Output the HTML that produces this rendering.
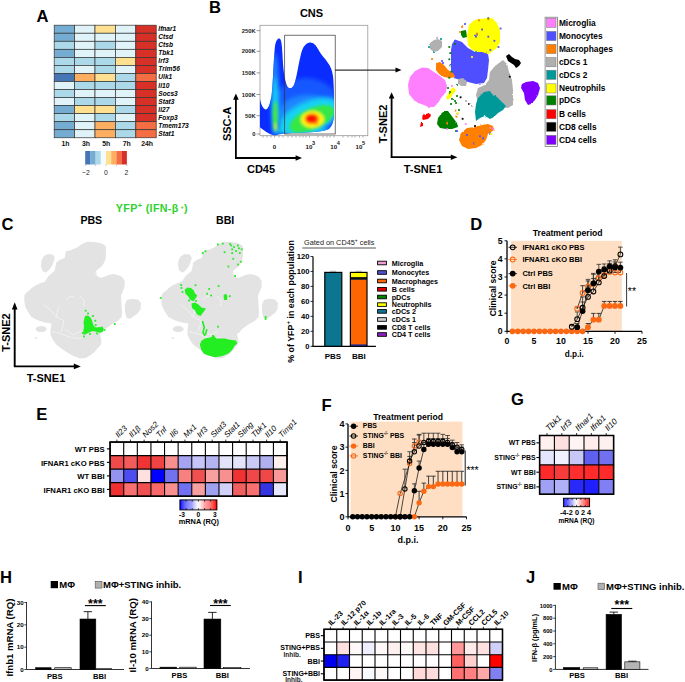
<!DOCTYPE html>
<html><head><meta charset="utf-8"><style>
html,body{margin:0;padding:0;background:#fff;}
svg{display:block;}
text{font-family:"Liberation Sans",sans-serif;}
</style></head><body>
<svg width="685" height="682" viewBox="0 0 685 682" style="font-family:'Liberation Sans',sans-serif">
<rect width="685" height="682" fill="#fff"/>
<text x="36.40" y="21.90" font-size="16.6" font-weight="bold"  text-anchor="start" fill="#000" >A</text>
<rect x="54.20" y="25.20" width="20.40" height="8.04" fill="#74add1" stroke="#333" stroke-width="0.7"/>
<rect x="74.60" y="25.20" width="20.40" height="8.04" fill="#e0f3f8" stroke="#333" stroke-width="0.7"/>
<rect x="95.00" y="25.20" width="20.40" height="8.04" fill="#fee090" stroke="#333" stroke-width="0.7"/>
<rect x="115.40" y="25.20" width="20.40" height="8.04" fill="#e0f3f8" stroke="#333" stroke-width="0.7"/>
<rect x="135.80" y="25.20" width="20.40" height="8.04" fill="#d73027" stroke="#333" stroke-width="0.7"/>
<text x="158.30" y="31.22" font-size="6.6" font-weight="bold" font-style="italic" text-anchor="start" fill="#000" >Ifnar1</text>
<rect x="54.20" y="33.24" width="20.40" height="8.04" fill="#74add1" stroke="#333" stroke-width="0.7"/>
<rect x="74.60" y="33.24" width="20.40" height="8.04" fill="#e0f3f8" stroke="#333" stroke-width="0.7"/>
<rect x="95.00" y="33.24" width="20.40" height="8.04" fill="#e0f3f8" stroke="#333" stroke-width="0.7"/>
<rect x="115.40" y="33.24" width="20.40" height="8.04" fill="#e0f3f8" stroke="#333" stroke-width="0.7"/>
<rect x="135.80" y="33.24" width="20.40" height="8.04" fill="#d73027" stroke="#333" stroke-width="0.7"/>
<text x="158.30" y="39.26" font-size="6.6" font-weight="bold" font-style="italic" text-anchor="start" fill="#000" >Ctsd</text>
<rect x="54.20" y="41.28" width="20.40" height="8.04" fill="#abd9e9" stroke="#333" stroke-width="0.7"/>
<rect x="74.60" y="41.28" width="20.40" height="8.04" fill="#e0f3f8" stroke="#333" stroke-width="0.7"/>
<rect x="95.00" y="41.28" width="20.40" height="8.04" fill="#abd9e9" stroke="#333" stroke-width="0.7"/>
<rect x="115.40" y="41.28" width="20.40" height="8.04" fill="#e0f3f8" stroke="#333" stroke-width="0.7"/>
<rect x="135.80" y="41.28" width="20.40" height="8.04" fill="#d73027" stroke="#333" stroke-width="0.7"/>
<text x="158.30" y="47.30" font-size="6.6" font-weight="bold" font-style="italic" text-anchor="start" fill="#000" >Ctsb</text>
<rect x="54.20" y="49.32" width="20.40" height="8.04" fill="#74add1" stroke="#333" stroke-width="0.7"/>
<rect x="74.60" y="49.32" width="20.40" height="8.04" fill="#e0f3f8" stroke="#333" stroke-width="0.7"/>
<rect x="95.00" y="49.32" width="20.40" height="8.04" fill="#e0f3f8" stroke="#333" stroke-width="0.7"/>
<rect x="115.40" y="49.32" width="20.40" height="8.04" fill="#e0f3f8" stroke="#333" stroke-width="0.7"/>
<rect x="135.80" y="49.32" width="20.40" height="8.04" fill="#d73027" stroke="#333" stroke-width="0.7"/>
<text x="158.30" y="55.34" font-size="6.6" font-weight="bold" font-style="italic" text-anchor="start" fill="#000" >Tbk1</text>
<rect x="54.20" y="57.36" width="20.40" height="8.04" fill="#abd9e9" stroke="#333" stroke-width="0.7"/>
<rect x="74.60" y="57.36" width="20.40" height="8.04" fill="#abd9e9" stroke="#333" stroke-width="0.7"/>
<rect x="95.00" y="57.36" width="20.40" height="8.04" fill="#abd9e9" stroke="#333" stroke-width="0.7"/>
<rect x="115.40" y="57.36" width="20.40" height="8.04" fill="#fee090" stroke="#333" stroke-width="0.7"/>
<rect x="135.80" y="57.36" width="20.40" height="8.04" fill="#d73027" stroke="#333" stroke-width="0.7"/>
<text x="158.30" y="63.38" font-size="6.6" font-weight="bold" font-style="italic" text-anchor="start" fill="#000" >Irf3</text>
<rect x="54.20" y="65.40" width="20.40" height="8.04" fill="#abd9e9" stroke="#333" stroke-width="0.7"/>
<rect x="74.60" y="65.40" width="20.40" height="8.04" fill="#e0f3f8" stroke="#333" stroke-width="0.7"/>
<rect x="95.00" y="65.40" width="20.40" height="8.04" fill="#abd9e9" stroke="#333" stroke-width="0.7"/>
<rect x="115.40" y="65.40" width="20.40" height="8.04" fill="#e0f3f8" stroke="#333" stroke-width="0.7"/>
<rect x="135.80" y="65.40" width="20.40" height="8.04" fill="#d73027" stroke="#333" stroke-width="0.7"/>
<text x="158.30" y="71.42" font-size="6.6" font-weight="bold" font-style="italic" text-anchor="start" fill="#000" >Trim56</text>
<rect x="54.20" y="73.44" width="20.40" height="8.04" fill="#4575b4" stroke="#333" stroke-width="0.7"/>
<rect x="74.60" y="73.44" width="20.40" height="8.04" fill="#fdae61" stroke="#333" stroke-width="0.7"/>
<rect x="95.00" y="73.44" width="20.40" height="8.04" fill="#fee090" stroke="#333" stroke-width="0.7"/>
<rect x="115.40" y="73.44" width="20.40" height="8.04" fill="#abd9e9" stroke="#333" stroke-width="0.7"/>
<rect x="135.80" y="73.44" width="20.40" height="8.04" fill="#f46d43" stroke="#333" stroke-width="0.7"/>
<text x="158.30" y="79.46" font-size="6.6" font-weight="bold" font-style="italic" text-anchor="start" fill="#000" >Ulk1</text>
<rect x="54.20" y="81.48" width="20.40" height="8.04" fill="#e0f3f8" stroke="#333" stroke-width="0.7"/>
<rect x="74.60" y="81.48" width="20.40" height="8.04" fill="#abd9e9" stroke="#333" stroke-width="0.7"/>
<rect x="95.00" y="81.48" width="20.40" height="8.04" fill="#abd9e9" stroke="#333" stroke-width="0.7"/>
<rect x="115.40" y="81.48" width="20.40" height="8.04" fill="#abd9e9" stroke="#333" stroke-width="0.7"/>
<rect x="135.80" y="81.48" width="20.40" height="8.04" fill="#d73027" stroke="#333" stroke-width="0.7"/>
<text x="158.30" y="87.50" font-size="6.6" font-weight="bold" font-style="italic" text-anchor="start" fill="#000" >Il10</text>
<rect x="54.20" y="89.52" width="20.40" height="8.04" fill="#abd9e9" stroke="#333" stroke-width="0.7"/>
<rect x="74.60" y="89.52" width="20.40" height="8.04" fill="#e0f3f8" stroke="#333" stroke-width="0.7"/>
<rect x="95.00" y="89.52" width="20.40" height="8.04" fill="#e0f3f8" stroke="#333" stroke-width="0.7"/>
<rect x="115.40" y="89.52" width="20.40" height="8.04" fill="#e0f3f8" stroke="#333" stroke-width="0.7"/>
<rect x="135.80" y="89.52" width="20.40" height="8.04" fill="#d73027" stroke="#333" stroke-width="0.7"/>
<text x="158.30" y="95.54" font-size="6.6" font-weight="bold" font-style="italic" text-anchor="start" fill="#000" >Socs3</text>
<rect x="54.20" y="97.56" width="20.40" height="8.04" fill="#e0f3f8" stroke="#333" stroke-width="0.7"/>
<rect x="74.60" y="97.56" width="20.40" height="8.04" fill="#abd9e9" stroke="#333" stroke-width="0.7"/>
<rect x="95.00" y="97.56" width="20.40" height="8.04" fill="#abd9e9" stroke="#333" stroke-width="0.7"/>
<rect x="115.40" y="97.56" width="20.40" height="8.04" fill="#e0f3f8" stroke="#333" stroke-width="0.7"/>
<rect x="135.80" y="97.56" width="20.40" height="8.04" fill="#d73027" stroke="#333" stroke-width="0.7"/>
<text x="158.30" y="103.58" font-size="6.6" font-weight="bold" font-style="italic" text-anchor="start" fill="#000" >Stat3</text>
<rect x="54.20" y="105.60" width="20.40" height="8.04" fill="#74add1" stroke="#333" stroke-width="0.7"/>
<rect x="74.60" y="105.60" width="20.40" height="8.04" fill="#fee090" stroke="#333" stroke-width="0.7"/>
<rect x="95.00" y="105.60" width="20.40" height="8.04" fill="#fee090" stroke="#333" stroke-width="0.7"/>
<rect x="115.40" y="105.60" width="20.40" height="8.04" fill="#abd9e9" stroke="#333" stroke-width="0.7"/>
<rect x="135.80" y="105.60" width="20.40" height="8.04" fill="#d73027" stroke="#333" stroke-width="0.7"/>
<text x="158.30" y="111.62" font-size="6.6" font-weight="bold" font-style="italic" text-anchor="start" fill="#000" >Il27</text>
<rect x="54.20" y="113.64" width="20.40" height="8.04" fill="#abd9e9" stroke="#333" stroke-width="0.7"/>
<rect x="74.60" y="113.64" width="20.40" height="8.04" fill="#e0f3f8" stroke="#333" stroke-width="0.7"/>
<rect x="95.00" y="113.64" width="20.40" height="8.04" fill="#abd9e9" stroke="#333" stroke-width="0.7"/>
<rect x="115.40" y="113.64" width="20.40" height="8.04" fill="#e0f3f8" stroke="#333" stroke-width="0.7"/>
<rect x="135.80" y="113.64" width="20.40" height="8.04" fill="#d73027" stroke="#333" stroke-width="0.7"/>
<text x="158.30" y="119.66" font-size="6.6" font-weight="bold" font-style="italic" text-anchor="start" fill="#000" >Foxp3</text>
<rect x="54.20" y="121.68" width="20.40" height="8.04" fill="#74add1" stroke="#333" stroke-width="0.7"/>
<rect x="74.60" y="121.68" width="20.40" height="8.04" fill="#e0f3f8" stroke="#333" stroke-width="0.7"/>
<rect x="95.00" y="121.68" width="20.40" height="8.04" fill="#fdae61" stroke="#333" stroke-width="0.7"/>
<rect x="115.40" y="121.68" width="20.40" height="8.04" fill="#abd9e9" stroke="#333" stroke-width="0.7"/>
<rect x="135.80" y="121.68" width="20.40" height="8.04" fill="#f46d43" stroke="#333" stroke-width="0.7"/>
<text x="158.30" y="127.70" font-size="6.6" font-weight="bold" font-style="italic" text-anchor="start" fill="#000" >Tmem173</text>
<rect x="54.20" y="129.72" width="20.40" height="8.04" fill="#74add1" stroke="#333" stroke-width="0.7"/>
<rect x="74.60" y="129.72" width="20.40" height="8.04" fill="#e0f3f8" stroke="#333" stroke-width="0.7"/>
<rect x="95.00" y="129.72" width="20.40" height="8.04" fill="#fdae61" stroke="#333" stroke-width="0.7"/>
<rect x="115.40" y="129.72" width="20.40" height="8.04" fill="#abd9e9" stroke="#333" stroke-width="0.7"/>
<rect x="135.80" y="129.72" width="20.40" height="8.04" fill="#f46d43" stroke="#333" stroke-width="0.7"/>
<text x="158.30" y="135.74" font-size="6.6" font-weight="bold" font-style="italic" text-anchor="start" fill="#000" >Stat1</text>
<text x="65.50" y="145.50" font-size="6.9" font-weight="bold"  text-anchor="middle" fill="#111" >1h</text>
<text x="85.90" y="145.50" font-size="6.9" font-weight="bold"  text-anchor="middle" fill="#111" >3h</text>
<text x="106.30" y="145.50" font-size="6.9" font-weight="bold"  text-anchor="middle" fill="#111" >5h</text>
<text x="126.70" y="145.50" font-size="6.9" font-weight="bold"  text-anchor="middle" fill="#111" >7h</text>
<text x="147.10" y="145.50" font-size="6.9" font-weight="bold"  text-anchor="middle" fill="#111" >24h</text>
<rect x="85.20" y="151" width="5.30" height="13.5" fill="#4575b4"/>
<rect x="90.40" y="151" width="5.30" height="13.5" fill="#74add1"/>
<rect x="95.60" y="151" width="5.30" height="13.5" fill="#abd9e9"/>
<rect x="100.80" y="151" width="5.30" height="13.5" fill="#f4fbfd"/>
<rect x="106.00" y="151" width="5.30" height="13.5" fill="#fee090"/>
<rect x="111.20" y="151" width="5.30" height="13.5" fill="#fdae61"/>
<rect x="116.40" y="151" width="5.30" height="13.5" fill="#f46d43"/>
<rect x="121.60" y="151" width="5.30" height="13.5" fill="#d73027"/>
<line x1="85.20" y1="164.5" x2="85.20" y2="166" stroke="#888" stroke-width="0.5"/>
<line x1="95.60" y1="164.5" x2="95.60" y2="166" stroke="#888" stroke-width="0.5"/>
<line x1="106.00" y1="164.5" x2="106.00" y2="166" stroke="#888" stroke-width="0.5"/>
<line x1="116.40" y1="164.5" x2="116.40" y2="166" stroke="#888" stroke-width="0.5"/>
<line x1="126.80" y1="164.5" x2="126.80" y2="166" stroke="#888" stroke-width="0.5"/>
<text x="86.00" y="174.50" font-size="6.8"   text-anchor="middle" fill="#222" >&#8722;2</text>
<text x="106.00" y="174.50" font-size="6.8"   text-anchor="middle" fill="#222" >0</text>
<text x="126.30" y="174.50" font-size="6.8"   text-anchor="middle" fill="#222" >2</text>
<text x="209.10" y="12.80" font-size="16.6" font-weight="bold"  text-anchor="start" fill="#000" >B</text>
<text x="311.50" y="16.90" font-size="11" font-weight="bold"  text-anchor="middle" fill="#000" >CNS</text>
<rect x="260" y="25.3" width="107.8" height="110.4" fill="none" stroke="#999" stroke-width="0.8"/>
<clipPath id="flowclip"><path d="M260,99 C261,104 263,109 265.5,109.5 C268,110 270,104 271.5,96 C273,85 273.5,60 275,46 C276,40 278,38 279.5,38.5 C281.5,39.5 282,45 282.5,55 C283,68 284.5,80 287,86 C289,89.5 292,89 294,85 C296.5,79 298,66 301,54 C303,46 306,43.5 309.5,42.5 C313,42 316,45 318,49 C321,55 325,58 328,63 C330.5,66 332,70 333,76 C334,85 334,100 334,112 C334,122 332,127 328,129.5 C322,132 310,132.5 295,133 C285,133.3 280,133.8 277,135 C275,135.8 272,135.2 269,133.5 C265.5,131.5 262,129 260,127.3 Z"/></clipPath>
<filter id="fb3" x="-50%" y="-50%" width="200%" height="200%"><feGaussianBlur stdDeviation="2.2"/></filter>
<filter id="fb2" x="-50%" y="-50%" width="200%" height="200%"><feGaussianBlur stdDeviation="1.4"/></filter>
<g clip-path="url(#flowclip)">
<rect x="255" y="30" width="85" height="110" fill="#0a2cff"/>
<g filter="url(#fb3)">
<ellipse cx="306" cy="106" rx="33" ry="28" fill="#1458ff"/>
<ellipse cx="308" cy="114" rx="29" ry="19" fill="#1a86ff"/>
<ellipse cx="275" cy="95" rx="4" ry="42" fill="#1a86ff"/>
<ellipse cx="302" cy="131.5" rx="30" ry="3.2" fill="#12c8f0"/>
<ellipse cx="309" cy="117" rx="32" ry="15" fill="#12d4f0" transform="rotate(-24 309 117)"/>
<ellipse cx="275" cy="105" rx="2.8" ry="28" fill="#12d4f0"/>
</g><g filter="url(#fb2)">
<ellipse cx="312" cy="119" rx="24" ry="10.5" fill="#34e844" transform="rotate(-24 312 119)"/>
<ellipse cx="275.3" cy="116" rx="2.3" ry="15" fill="#48e838"/>
<ellipse cx="275.5" cy="127" rx="1.6" ry="4" fill="#c8f020"/>
<ellipse cx="312.5" cy="119.5" rx="11.5" ry="8.5" fill="#fff510"/>
<ellipse cx="311.8" cy="118.8" rx="7" ry="5.2" fill="#ff3a08"/>
<ellipse cx="311.3" cy="118.3" rx="4.5" ry="3.4" fill="#ff1000"/>
<circle cx="316.5" cy="123.5" r="1.6" fill="#ff8010"/>
</g></g>
<rect x="284.7" y="35.2" width="50.5" height="98.8" fill="none" stroke="#333" stroke-width="0.7"/>
<line x1="256.6" y1="30.6" x2="260" y2="30.6" stroke="#555" stroke-width="0.6"/>
<text x="255.60" y="32.70" font-size="5.8" font-weight="bold"  text-anchor="end" fill="#222" >250K</text>
<line x1="256.6" y1="51.3" x2="260" y2="51.3" stroke="#555" stroke-width="0.6"/>
<text x="255.60" y="53.40" font-size="5.8" font-weight="bold"  text-anchor="end" fill="#222" >200K</text>
<line x1="256.6" y1="72.9" x2="260" y2="72.9" stroke="#555" stroke-width="0.6"/>
<text x="255.60" y="75.00" font-size="5.8" font-weight="bold"  text-anchor="end" fill="#222" >150K</text>
<line x1="256.6" y1="94.5" x2="260" y2="94.5" stroke="#555" stroke-width="0.6"/>
<text x="255.60" y="96.60" font-size="5.8" font-weight="bold"  text-anchor="end" fill="#222" >100K</text>
<line x1="256.6" y1="115.7" x2="260" y2="115.7" stroke="#555" stroke-width="0.6"/>
<text x="255.60" y="117.80" font-size="5.8" font-weight="bold"  text-anchor="end" fill="#222" >50K</text>
<line x1="256.6" y1="134" x2="260" y2="134" stroke="#555" stroke-width="0.6"/>
<text x="255.60" y="136.10" font-size="5.8" font-weight="bold"  text-anchor="end" fill="#222" >0</text>
<line x1="263" y1="135.7" x2="263" y2="137.5" stroke="#666" stroke-width="0.5"/>
<line x1="267" y1="135.7" x2="267" y2="137.5" stroke="#666" stroke-width="0.5"/>
<line x1="271" y1="135.7" x2="271" y2="137.5" stroke="#666" stroke-width="0.5"/>
<line x1="274.6" y1="135.7" x2="274.6" y2="137.5" stroke="#666" stroke-width="0.5"/>
<line x1="279" y1="135.7" x2="279" y2="137.5" stroke="#666" stroke-width="0.5"/>
<line x1="283" y1="135.7" x2="283" y2="137.5" stroke="#666" stroke-width="0.5"/>
<line x1="288" y1="135.7" x2="288" y2="137.5" stroke="#666" stroke-width="0.5"/>
<line x1="292" y1="135.7" x2="292" y2="137.5" stroke="#666" stroke-width="0.5"/>
<line x1="296" y1="135.7" x2="296" y2="137.5" stroke="#666" stroke-width="0.5"/>
<line x1="300" y1="135.7" x2="300" y2="137.5" stroke="#666" stroke-width="0.5"/>
<line x1="303" y1="135.7" x2="303" y2="137.5" stroke="#666" stroke-width="0.5"/>
<line x1="306" y1="135.7" x2="306" y2="137.5" stroke="#666" stroke-width="0.5"/>
<line x1="309.5" y1="135.7" x2="309.5" y2="137.5" stroke="#666" stroke-width="0.5"/>
<line x1="318" y1="135.7" x2="318" y2="137.5" stroke="#666" stroke-width="0.5"/>
<line x1="323" y1="135.7" x2="323" y2="137.5" stroke="#666" stroke-width="0.5"/>
<line x1="327" y1="135.7" x2="327" y2="137.5" stroke="#666" stroke-width="0.5"/>
<line x1="330" y1="135.7" x2="330" y2="137.5" stroke="#666" stroke-width="0.5"/>
<line x1="334" y1="135.7" x2="334" y2="137.5" stroke="#666" stroke-width="0.5"/>
<line x1="343" y1="135.7" x2="343" y2="137.5" stroke="#666" stroke-width="0.5"/>
<line x1="348" y1="135.7" x2="348" y2="137.5" stroke="#666" stroke-width="0.5"/>
<line x1="352" y1="135.7" x2="352" y2="137.5" stroke="#666" stroke-width="0.5"/>
<line x1="355" y1="135.7" x2="355" y2="137.5" stroke="#666" stroke-width="0.5"/>
<line x1="359.5" y1="135.7" x2="359.5" y2="137.5" stroke="#666" stroke-width="0.5"/>
<line x1="363" y1="135.7" x2="363" y2="137.5" stroke="#666" stroke-width="0.5"/>
<text x="274.60" y="149.20" font-size="6.2" font-weight="bold"  text-anchor="middle" fill="#222" >0</text>
<text x="308.90" y="149.20" font-size="6.2" font-weight="bold"  text-anchor="middle" fill="#222" >10</text>
<text x="313.50" y="144.60" font-size="5.6" font-weight="bold"  text-anchor="middle" fill="#222" >3</text>
<text x="333.70" y="149.20" font-size="6.2" font-weight="bold"  text-anchor="middle" fill="#222" >10</text>
<text x="338.30" y="144.60" font-size="5.6" font-weight="bold"  text-anchor="middle" fill="#222" >4</text>
<text x="358.90" y="149.20" font-size="6.2" font-weight="bold"  text-anchor="middle" fill="#222" >10</text>
<text x="363.50" y="144.60" font-size="5.6" font-weight="bold"  text-anchor="middle" fill="#222" >5</text>
<path d="M235.9,158 L235.9,99" stroke="#000" stroke-width="1.8" fill="none"/>
<path d="M233.1,99.8 L235.9,93.6 L238.7,99.8 Z" fill="#000"/>
<path d="M235,158 L296,158" stroke="#000" stroke-width="1.8" fill="none"/>
<path d="M295.6,155.2 L302,158 L295.6,160.8 Z" fill="#000"/>
<text x="231.20" y="124.00" font-size="11" font-weight="bold"  text-anchor="middle" fill="#000" transform="rotate(-90 231.2 124)" >SSC-A</text>
<text x="261.00" y="172.60" font-size="11" font-weight="bold"  text-anchor="middle" fill="#000" >CD45</text>
<path d="M335.2,70.1 L396,70.1" stroke="#000" stroke-width="1" fill="none"/>
<path d="M395.5,67.6 L401.5,70.1 L395.5,72.6 Z" fill="#000"/>
<path d="M391.6,157.2 L391.6,98" stroke="#000" stroke-width="1.8" fill="none"/>
<path d="M388.8,98.6 L391.6,92.2 L394.4,98.6 Z" fill="#000"/>
<path d="M390.7,157.2 L451,157.2" stroke="#000" stroke-width="1.8" fill="none"/>
<path d="M450.8,154.4 L457.4,157.2 L450.8,160 Z" fill="#000"/>
<text x="386.90" y="123.90" font-size="11" font-weight="bold"  text-anchor="middle" fill="#000" transform="rotate(-90 386.9 123.9)" >T-SNE2</text>
<text x="423.00" y="172.50" font-size="11" font-weight="bold"  text-anchor="middle" fill="#000" >T-SNE1</text>
<filter id="rough" x="-5%" y="-5%" width="110%" height="110%"><feTurbulence type="fractalNoise" baseFrequency="0.9" numOctaves="1" seed="3"/><feDisplacementMap in="SourceGraphic" scale="2.2" xChannelSelector="R" yChannelSelector="G"/></filter>
<g id="tsne" filter="url(#rough)"><path d="M503,60 L507,64 L509,72 L512,80 L513,90 L513,105 L508,108 L500,107 L490,106 L478,103 L476,95 L478,88 L485,85 L489,80 L490,72 L495,66 Z" fill="#b0b0b0"/><path d="M484,92 L490,91 L492,94 L497,97 L503,103 L506,106 L503,110 L498,113 L494,117 L490,119 L485,116 L480,118 L476,121 L475,112 L476,104 L478,98 Z" fill="#009999"/><path d="M478,19 L492,18 L497,23 L500,30 L500,42 L497,48 L490,53 L485,55 L479,52 L472,50 L468,45 L467,35 L469,25 L473,21 Z" fill="#ffff00"/><path d="M455,39.6 L462,42 L468,48 L475,52 L482,52 L488,54 L489,60 L488,70 L487,78 L484,83 L476,84 L468,82 L460,80 L454,78 L451,70 L451,50 L452,44 Z" fill="#4f4fff"/><path d="M422,67.5 L428,68 L434,72 L440,76 L445,80 L447,86 L446,92 L441,98 L438,103 L434,107 L428,107 L424,105 L418,103 L413,99 L409,94 L408,85 L410,77 L415,71 Z" fill="#ff80ff"/><path d="M526,82 L533,81 L538,83 L540,88 L538,95 L535,100 L531,104 L528,105 L525,100 L524,93 L521,88 L522,84 Z" fill="#8000ff"/><path d="M506,56 L509,54 L512,57 L515,59 L519,60 L521,63 L519,66 L516,68 L514,65 L511,63 L508,61 Z" fill="#000000"/><path d="M434,40 L438,39 L442,41 L442,47 L438,51 L434,52 L430,49 L430,43 Z" fill="#b0b0b0"/><path d="M436,63 L440,62 L444,65 L448,70 L453,73 L455,77 L450,78 L444,77 L439,74 L436,70 Z" fill="#ff8000"/><path d="M467,128 L475,127 L482,125 L488,124 L493,126 L494,130 L488,134 L486,140 L482,145 L476,148 L468,149 L462,146 L459,140 L461,133 Z" fill="#ff8000"/><path d="M444,111 L448,111 L451,115 L454,119 L457,123 L458,127 L452,129 L446,129 L440,128 L437,124 L438,118 L441,114 Z" fill="#008000"/><path d="M423,115 L429,113 L431,116 L428,119 L423,120 L422,118 Z" fill="#ff0000"/><path d="M421,122 L423,122 L423,126 L420,127 Z" fill="#ff0000"/><path d="M461,31 L466,30 L467,37 L463,38 L461,35 Z" fill="#008000"/><path d="M453,87 L456,90 L452,96 L448,100 L446,98 L449,92 Z" fill="#ffff00"/><rect x="448.4" y="46.1" width="1.8" height="1.8" fill="#008000"/><rect x="449.4" y="52.2" width="1.8" height="1.8" fill="#008000"/><rect x="448.4" y="58.4" width="1.8" height="1.8" fill="#008000"/><rect x="449.4" y="64.5" width="1.8" height="1.8" fill="#008000"/><rect x="450.4" y="70.7" width="1.8" height="1.8" fill="#008000"/><rect x="448.4" y="76.8" width="1.8" height="1.8" fill="#008000"/><rect x="447.1" y="87.1" width="1.8" height="1.8" fill="#008000"/><rect x="449.1" y="91.1" width="1.8" height="1.8" fill="#008000"/><rect x="451.1" y="98.1" width="1.8" height="1.8" fill="#008000"/><rect x="454.1" y="100.1" width="1.8" height="1.8" fill="#008000"/><rect x="456.1" y="95.1" width="1.8" height="1.8" fill="#008000"/><rect x="455.1" y="102.1" width="1.8" height="1.8" fill="#008000"/><rect x="458.1" y="109.1" width="1.8" height="1.8" fill="#008000"/><rect x="450.1" y="103.1" width="1.8" height="1.8" fill="#008000"/><rect x="445.1" y="125.1" width="1.8" height="1.8" fill="#008000"/><rect x="455.1" y="130.1" width="1.8" height="1.8" fill="#008000"/><rect x="487.4" y="17.3" width="1.8" height="1.8" fill="#008000"/><rect x="454.1" y="43.1" width="1.8" height="1.8" fill="#008000"/><rect x="456.1" y="84.1" width="1.8" height="1.8" fill="#008000"/><rect x="475.1" y="35.8" width="1.8" height="1.8" fill="#4f4fff"/><rect x="481.2" y="28.6" width="1.8" height="1.8" fill="#4f4fff"/><rect x="487.4" y="35.8" width="1.8" height="1.8" fill="#4f4fff"/><rect x="493.5" y="39.9" width="1.8" height="1.8" fill="#4f4fff"/><rect x="489.4" y="49.1" width="1.8" height="1.8" fill="#4f4fff"/><rect x="497.6" y="46.1" width="1.8" height="1.8" fill="#4f4fff"/><rect x="499.7" y="27.6" width="1.8" height="1.8" fill="#4f4fff"/><rect x="476.1" y="33.7" width="1.8" height="1.8" fill="#4f4fff"/><rect x="474.1" y="34.8" width="1.8" height="1.8" fill="#4f4fff"/><rect x="479.1" y="135.4" width="1.8" height="1.8" fill="#4f4fff"/><rect x="482.2" y="137.4" width="1.8" height="1.8" fill="#4f4fff"/><rect x="473.1" y="142.5" width="1.8" height="1.8" fill="#4f4fff"/><rect x="489.4" y="132.3" width="1.8" height="1.8" fill="#4f4fff"/><rect x="466.1" y="134.1" width="1.8" height="1.8" fill="#4f4fff"/><rect x="441.1" y="60.1" width="1.8" height="1.8" fill="#4f4fff"/><rect x="442.1" y="62.1" width="1.8" height="1.8" fill="#4f4fff"/><rect x="456.1" y="130.1" width="1.8" height="1.8" fill="#4f4fff"/><rect x="464.1" y="23.1" width="1.8" height="1.8" fill="#4f4fff"/><rect x="476.1" y="32.7" width="1.8" height="1.8" fill="#ff8000"/><rect x="478.1" y="19.4" width="1.8" height="1.8" fill="#ff8000"/><rect x="487.4" y="18.3" width="1.8" height="1.8" fill="#ff8000"/><rect x="454.5" y="109.7" width="1.8" height="1.8" fill="#ff8000"/><rect x="456.6" y="112.8" width="1.8" height="1.8" fill="#ff8000"/><rect x="455.6" y="115.9" width="1.8" height="1.8" fill="#ff8000"/><rect x="461.1" y="26.1" width="1.8" height="1.8" fill="#ff8000"/><rect x="459.1" y="31.1" width="1.8" height="1.8" fill="#ff8000"/><rect x="431.1" y="58.1" width="1.8" height="1.8" fill="#ff8000"/><rect x="446.1" y="122.1" width="1.8" height="1.8" fill="#ff8000"/><rect x="476.1" y="134.1" width="1.8" height="1.8" fill="#ff8000"/><rect x="464.8" y="123.1" width="1.8" height="1.8" fill="#ff80ff"/><rect x="446.3" y="128.1" width="1.8" height="1.8" fill="#ff80ff"/><rect x="489.4" y="127.1" width="1.8" height="1.8" fill="#ff80ff"/><rect x="492.5" y="128.1" width="1.8" height="1.8" fill="#ff80ff"/><rect x="431.1" y="82.1" width="1.8" height="1.8" fill="#ff80ff"/><rect x="451.1" y="85.1" width="1.8" height="1.8" fill="#ff80ff"/><rect x="439.1" y="93.1" width="1.8" height="1.8" fill="#ff80ff"/><rect x="428.1" y="106.1" width="1.8" height="1.8" fill="#ff80ff"/><rect x="459.7" y="96.4" width="1.8" height="1.8" fill="#000000"/><rect x="461.7" y="117.9" width="1.8" height="1.8" fill="#000000"/><rect x="474.1" y="125.1" width="1.8" height="1.8" fill="#000000"/><rect x="508.9" y="75.8" width="1.8" height="1.8" fill="#000000"/><rect x="468.1" y="103.1" width="1.8" height="1.8" fill="#000000"/><rect x="469.1" y="103.1" width="1.8" height="1.8" fill="#b0b0b0"/><rect x="471.1" y="105.1" width="1.8" height="1.8" fill="#b0b0b0"/><rect x="465.1" y="100.1" width="1.8" height="1.8" fill="#b0b0b0"/><rect x="436.1" y="37.1" width="1.8" height="1.8" fill="#b0b0b0"/><rect x="475.1" y="51.1" width="1.8" height="1.8" fill="#009999"/><rect x="433.1" y="51.1" width="1.8" height="1.8" fill="#009999"/><rect x="428.1" y="46.1" width="1.8" height="1.8" fill="#009999"/><rect x="440.1" y="38.1" width="1.8" height="1.8" fill="#009999"/><rect x="457.1" y="112.1" width="1.8" height="1.8" fill="#ffff00"/><rect x="490.1" y="133.1" width="1.8" height="1.8" fill="#ffff00"/><rect x="471.1" y="56.1" width="1.8" height="1.8" fill="#ffff00"/><path d="M458,79 L463,78 L467,82 L466,86 L461,86 L458,83 Z" fill="#b0b0b0"/></g>
<rect x="545.1" y="17.2" width="12.4" height="129.3" fill="none" stroke="#666" stroke-width="0.7"/>
<rect x="546.6" y="18.2" width="9.4" height="9.2" fill="#ff80ff" stroke="#777" stroke-width="0.5"/>
<text x="558.90" y="25.60" font-size="8.4" font-weight="bold"  text-anchor="start" fill="#000" >Microglia</text>
<rect x="546.6" y="31.4" width="9.4" height="9.2" fill="#4f4fff" stroke="#777" stroke-width="0.5"/>
<text x="558.90" y="38.80" font-size="8.4" font-weight="bold"  text-anchor="start" fill="#000" >Monocytes</text>
<rect x="546.6" y="44.4" width="9.4" height="9.2" fill="#ff8000" stroke="#777" stroke-width="0.5"/>
<text x="558.90" y="51.80" font-size="8.4" font-weight="bold"  text-anchor="start" fill="#000" >Macrophages</text>
<rect x="546.6" y="57.6" width="9.4" height="9.2" fill="#b0b0b0" stroke="#777" stroke-width="0.5"/>
<text x="558.90" y="65.00" font-size="8.4" font-weight="bold"  text-anchor="start" fill="#000" >cDCs 1</text>
<rect x="546.6" y="70.2" width="9.4" height="9.2" fill="#009999" stroke="#777" stroke-width="0.5"/>
<text x="558.90" y="77.60" font-size="8.4" font-weight="bold"  text-anchor="start" fill="#000" >cDCs 2</text>
<rect x="546.6" y="83.8" width="9.4" height="9.2" fill="#ffff00" stroke="#777" stroke-width="0.5"/>
<text x="558.90" y="91.20" font-size="8.4" font-weight="bold"  text-anchor="start" fill="#000" >Neutrophils</text>
<rect x="546.6" y="95.8" width="9.4" height="9.2" fill="#008000" stroke="#777" stroke-width="0.5"/>
<text x="558.90" y="103.20" font-size="8.4" font-weight="bold"  text-anchor="start" fill="#000" >pDCs</text>
<rect x="546.6" y="109.6" width="9.4" height="9.2" fill="#ff0000" stroke="#777" stroke-width="0.5"/>
<text x="558.90" y="117.00" font-size="8.4" font-weight="bold"  text-anchor="start" fill="#000" >B cells</text>
<rect x="546.6" y="122.2" width="9.4" height="9.2" fill="#000000" stroke="#777" stroke-width="0.5"/>
<text x="558.90" y="129.60" font-size="8.4" font-weight="bold"  text-anchor="start" fill="#000" >CD8 cells</text>
<rect x="546.6" y="135.3" width="9.4" height="9.2" fill="#8000ff" stroke="#777" stroke-width="0.5"/>
<text x="558.90" y="142.70" font-size="8.4" font-weight="bold"  text-anchor="start" fill="#000" >CD4 cells</text>
<text x="1.60" y="229.90" font-size="16.6" font-weight="bold"  text-anchor="start" fill="#000" >C</text>
<text x="151.9" y="212.4" font-size="10.7" font-weight="bold" letter-spacing="0.35" text-anchor="middle" fill="#2ed22e">YFP<tspan font-size="7.5" dy="-4.5">+</tspan><tspan dy="4.5"> (IFN-&#946;</tspan><tspan font-size="5.5" dy="-3.5"> +</tspan><tspan dy="3.5">)</tspan></text>
<text x="91.30" y="224.40" font-size="10.6" font-weight="bold"  text-anchor="middle" fill="#000" >PBS</text>
<text x="225.20" y="224.40" font-size="10.6" font-weight="bold"  text-anchor="middle" fill="#000" >BBI</text>
<g transform="translate(0,0)">
<path d="M56.2,262.6 L60,259.8 L64.8,257.9 L65.8,251.2 L70.5,250.3 L77.2,247.4 L82,244 L87,241.7 L95,242 L102,243.5 L105.7,246 L106,252 L105.7,258 L104.5,262 L102,266 L99,268.4 L96,271 L97,276 L101,278 L108.6,275 L113,274 L118,275 L122,277 L124.8,281 L124.5,287 L122.5,292 L121,296 L121.5,304.5 L122,311 L121.5,317 L118.1,320.7 L113,323.5 L108.6,326.5 L104,330 L102.9,332.2 L100,334 L101,338.9 L101.5,342 L100.5,345 L97,349 L94.3,352.2 L90,355.5 L85.7,357.9 L80,358.5 L73.4,356 L68,353 L63.9,350.3 L60,347.5 L56.2,344.6 L53,340 L50.5,335 L50.5,330 L51.5,323.6 L45,322.5 L39,320.7 L35,319 L31.4,316.9 L27.6,311.2 L25,306 L24.3,300 L24.5,295 L27,292 L29.5,290.3 L33,287 L37.2,284.6 L41,283 L44.8,281.7 L48.6,276 L51.5,273.5 L54.3,271.2 L55.5,267 Z M44,256 L48,254 L53,254.5 L54.8,258 L53.5,262 L52,266 L49,270 L46,272.6 L42.5,271 L41,266 L41.5,260 Z M127,300 L132,298.8 L138,299.5 L141,303 L140.5,309 L138,313 L134,316 L130,318.8 L126.5,318 L125,312 L124.8,305 Z" fill="#e3e3e3"/>
<ellipse cx="41.2" cy="329.1" rx="5.5" ry="3" fill="#e3e3e3"/><circle cx="35.8" cy="338" r="1.1" fill="#e3e3e3"/>
<path d="M43.8,304.5 L51.5,311.2 L56.2,316.9 L60,318.8 L63.9,320.7 L62.9,326.5 L61,332.2 M56.2,316.9 L58.1,308.3 L60,306.4 M64.8,329.3 L73.4,335 L81,331.2 M94.3,273.1 L99,276 M66,300 L70,296 L74,297 M80,296 L84,300 L84,306 M52,331.5 L58,333 L64,335 L70,337.2 L77,338.6 L83,337.5" fill="none" stroke="#fff" stroke-width="0.7" opacity="0.7"/>
</g>
<g transform="translate(137,0)">
<path d="M56.2,262.6 L60,259.8 L64.8,257.9 L65.8,251.2 L70.5,250.3 L77.2,247.4 L82,244 L87,241.7 L95,242 L102,243.5 L105.7,246 L106,252 L105.7,258 L104.5,262 L102,266 L99,268.4 L96,271 L97,276 L101,278 L108.6,275 L113,274 L118,275 L122,277 L124.8,281 L124.5,287 L122.5,292 L121,296 L121.5,304.5 L122,311 L121.5,317 L118.1,320.7 L113,323.5 L108.6,326.5 L104,330 L102.9,332.2 L100,334 L101,338.9 L101.5,342 L100.5,345 L97,349 L94.3,352.2 L90,355.5 L85.7,357.9 L80,358.5 L73.4,356 L68,353 L63.9,350.3 L60,347.5 L56.2,344.6 L53,340 L50.5,335 L50.5,330 L51.5,323.6 L45,322.5 L39,320.7 L35,319 L31.4,316.9 L27.6,311.2 L25,306 L24.3,300 L24.5,295 L27,292 L29.5,290.3 L33,287 L37.2,284.6 L41,283 L44.8,281.7 L48.6,276 L51.5,273.5 L54.3,271.2 L55.5,267 Z M44,256 L48,254 L53,254.5 L54.8,258 L53.5,262 L52,266 L49,270 L46,272.6 L42.5,271 L41,266 L41.5,260 Z M127,300 L132,298.8 L138,299.5 L141,303 L140.5,309 L138,313 L134,316 L130,318.8 L126.5,318 L125,312 L124.8,305 Z" fill="#e3e3e3"/>
<ellipse cx="41.2" cy="329.1" rx="5.5" ry="3" fill="#e3e3e3"/><circle cx="35.8" cy="338" r="1.1" fill="#e3e3e3"/>
<path d="M43.8,304.5 L51.5,311.2 L56.2,316.9 L60,318.8 L63.9,320.7 L62.9,326.5 L61,332.2 M56.2,316.9 L58.1,308.3 L60,306.4 M64.8,329.3 L73.4,335 L81,331.2 M94.3,273.1 L99,276 M66,300 L70,296 L74,297 M80,296 L84,300 L84,306 M52,331.5 L58,333 L64,335 L70,337.2 L77,338.6 L83,337.5" fill="none" stroke="#fff" stroke-width="0.7" opacity="0.7"/>
</g>
<path fill="#22ee22" d="M85,316 L88,315.5 L91,318 L92.5,322 L93.3,325 L95,327 L96.2,327.5 L100,327 L103.8,328.5 L103,331.5 L100,332.7 L97,332 L93,331 L90,332 L86,334 L83.5,335 L83.3,331 L84,327 L83.5,322 Z"/>
<rect x="84.8" y="309.8" width="1.8" height="1.8" fill="#22ee22"/>
<rect x="113.89999999999999" y="323.20000000000005" width="1.8" height="1.8" fill="#22ee22"/>
<rect x="94.39999999999999" y="319.8" width="1.8" height="1.8" fill="#22ee22"/>
<rect x="94.8" y="324.1" width="1.8" height="1.8" fill="#22ee22"/>
<rect x="101.1" y="326.6" width="1.8" height="1.8" fill="#22ee22"/>
<rect x="83.1" y="335.6" width="1.8" height="1.8" fill="#22ee22"/>
<rect x="81.89999999999999" y="332.1" width="1.8" height="1.8" fill="#22ee22"/>
<rect x="89.1" y="333.1" width="1.8" height="1.8" fill="#22ee22"/>
<rect x="96.1" y="332.6" width="1.8" height="1.8" fill="#22ee22"/>
<rect x="103.6" y="329.1" width="1.8" height="1.8" fill="#22ee22"/>
<rect x="92.1" y="315.1" width="1.8" height="1.8" fill="#22ee22"/>
<rect x="87.1" y="312.6" width="1.8" height="1.8" fill="#22ee22"/>
<path fill="#22ee22" d="M201.2,341 L204.9,338.5 L211.1,337.3 L213.6,334.8 L216.1,338.5 L224.8,338.5 L229.8,339.8 L236,340.4 L237.3,343.5 L234.8,345.4 L232.3,349.7 L228.5,353.5 L222.3,356 L214.9,357.2 L207.4,355.3 L203.6,353.5 L201.2,349.7 L199.9,344.8 Z"/>
<path fill="none" stroke="#22ee22" stroke-width="1.6" d="M202.4,321.1 L204.3,327.3 L203,332.3 L204.9,336 M206.8,329.2 L205.5,334.8"/>
<path fill="#22ee22" d="M184.8,289.5 L187.5,287.6 L191,288 L193.8,290.5 L195,293.5 L197.3,295.6 L195.5,298.5 L193.3,301.3 L190.2,299.8 L188.5,296.8 L185.3,293.5 Z"/>
<path fill="#22ee22" d="M191.5,303.5 L195,302.5 L198.5,304.5 L201.5,307.5 L206,308.5 L203.5,312 L200.5,316 L197,314.5 L195,310.5 L192,308 Z"/>
<path fill="#22ee22" d="M223.6,295 L226,293.7 L227.3,296 L227,300 L224,300 Z"/>
<rect x="180.29999999999998" y="284.1" width="1.8" height="1.8" fill="#22ee22"/>
<rect x="180.6" y="287.1" width="1.8" height="1.8" fill="#22ee22"/>
<rect x="181.6" y="291.1" width="1.8" height="1.8" fill="#22ee22"/>
<rect x="217.7" y="285.1" width="1.8" height="1.8" fill="#22ee22"/>
<rect x="208.29999999999998" y="288.1" width="1.8" height="1.8" fill="#22ee22"/>
<rect x="206.2" y="292.8" width="1.8" height="1.8" fill="#22ee22"/>
<rect x="210.2" y="294.70000000000005" width="1.8" height="1.8" fill="#22ee22"/>
<rect x="228.9" y="295.3" width="1.8" height="1.8" fill="#22ee22"/>
<rect x="194.6" y="284.3" width="1.8" height="1.8" fill="#22ee22"/>
<rect x="217.1" y="325.8" width="1.8" height="1.8" fill="#22ee22"/>
<rect x="212.1" y="335.1" width="1.8" height="1.8" fill="#22ee22"/>
<rect x="188.1" y="299.6" width="1.8" height="1.8" fill="#22ee22"/>
<rect x="195.1" y="300.1" width="1.8" height="1.8" fill="#22ee22"/>
<rect x="201.79999999999998" y="252.2" width="1.8" height="1.8" fill="#22ee22"/>
<rect x="204.6" y="250.29999999999998" width="1.8" height="1.8" fill="#22ee22"/>
<rect x="217.0" y="243.6" width="1.8" height="1.8" fill="#22ee22"/>
<rect x="221.79999999999998" y="242.7" width="1.8" height="1.8" fill="#22ee22"/>
<rect x="230.29999999999998" y="244.6" width="1.8" height="1.8" fill="#22ee22"/>
<rect x="231.29999999999998" y="248.4" width="1.8" height="1.8" fill="#22ee22"/>
<rect x="231.29999999999998" y="252.2" width="1.8" height="1.8" fill="#22ee22"/>
<rect x="237.0" y="244.6" width="1.8" height="1.8" fill="#22ee22"/>
<rect x="238.0" y="247.4" width="1.8" height="1.8" fill="#22ee22"/>
<rect x="240.79999999999998" y="248.4" width="1.8" height="1.8" fill="#22ee22"/>
<rect x="238.9" y="252.2" width="1.8" height="1.8" fill="#22ee22"/>
<rect x="223.7" y="251.29999999999998" width="1.8" height="1.8" fill="#22ee22"/>
<rect x="232.29999999999998" y="257.90000000000003" width="1.8" height="1.8" fill="#22ee22"/>
<rect x="239.9" y="260.8" width="1.8" height="1.8" fill="#22ee22"/>
<rect x="237.0" y="263.6" width="1.8" height="1.8" fill="#22ee22"/>
<rect x="227.5" y="265.6" width="1.8" height="1.8" fill="#22ee22"/>
<rect x="234.2" y="275.1" width="1.8" height="1.8" fill="#22ee22"/>
<rect x="159.79999999999998" y="297.0" width="1.8" height="1.8" fill="#22ee22"/>
<rect x="264.70000000000005" y="316.1" width="1.8" height="1.8" fill="#22ee22"/>
<rect x="264.70000000000005" y="318.0" width="1.8" height="1.8" fill="#22ee22"/>
<rect x="233.1" y="246.1" width="1.8" height="1.8" fill="#22ee22"/>
<rect x="235.1" y="250.1" width="1.8" height="1.8" fill="#22ee22"/>
<rect x="229.1" y="243.1" width="1.8" height="1.8" fill="#22ee22"/>
<path d="M14.7,366 L14.7,309" stroke="#000" stroke-width="1.9" fill="none"/>
<path d="M11.9,309.4 L14.7,302.2 L17.5,309.4 Z" fill="#000"/>
<path d="M13.8,366.4 L74,366.4" stroke="#000" stroke-width="1.9" fill="none"/>
<path d="M73.8,363.6 L80.8,366.4 L73.8,369.2 Z" fill="#000"/>
<text x="10.40" y="332.60" font-size="11" font-weight="bold"  text-anchor="middle" fill="#000" transform="rotate(-90 10.4 332.6)" >T-SNE2</text>
<text x="46.00" y="382.00" font-size="11" font-weight="bold"  text-anchor="middle" fill="#000" >T-SNE1</text>
<text x="339.20" y="244.60" font-size="7.3"   text-anchor="middle" fill="#222" >Gated on CD45<tspan font-size="5" dy="-3">+</tspan><tspan dy="3"> cells</tspan></text>
<line x1="302.3" y1="248" x2="375.9" y2="248" stroke="#444" stroke-width="0.9"/>
<line x1="313" y1="256.5" x2="313" y2="346.3" stroke="#000" stroke-width="1.2"/>
<line x1="312.4" y1="346.3" x2="375.9" y2="346.3" stroke="#000" stroke-width="1.2"/>
<line x1="310.5" y1="346.30" x2="313" y2="346.30" stroke="#000" stroke-width="0.8"/>
<text x="309.50" y="349.00" font-size="7.6" font-weight="bold"  text-anchor="end" fill="#000" >0</text>
<line x1="310.5" y1="331.33" x2="313" y2="331.33" stroke="#000" stroke-width="0.8"/>
<text x="309.50" y="334.03" font-size="7.6" font-weight="bold"  text-anchor="end" fill="#000" >20</text>
<line x1="310.5" y1="316.36" x2="313" y2="316.36" stroke="#000" stroke-width="0.8"/>
<text x="309.50" y="319.06" font-size="7.6" font-weight="bold"  text-anchor="end" fill="#000" >40</text>
<line x1="310.5" y1="301.39" x2="313" y2="301.39" stroke="#000" stroke-width="0.8"/>
<text x="309.50" y="304.09" font-size="7.6" font-weight="bold"  text-anchor="end" fill="#000" >60</text>
<line x1="310.5" y1="286.42" x2="313" y2="286.42" stroke="#000" stroke-width="0.8"/>
<text x="309.50" y="289.12" font-size="7.6" font-weight="bold"  text-anchor="end" fill="#000" >80</text>
<line x1="310.5" y1="271.45" x2="313" y2="271.45" stroke="#000" stroke-width="0.8"/>
<text x="309.50" y="274.15" font-size="7.6" font-weight="bold"  text-anchor="end" fill="#000" >100</text>
<line x1="310.5" y1="256.48" x2="313" y2="256.48" stroke="#000" stroke-width="0.8"/>
<text x="309.50" y="259.18" font-size="7.6" font-weight="bold"  text-anchor="end" fill="#000" >120</text>
<rect x="324.8" y="272.4" width="17.0" height="73.9" fill="#0c7590" stroke="#000" stroke-width="1.2"/>
<rect x="350.4" y="279.6" width="16.6" height="66.7" fill="#ff6600"/>
<rect x="350.4" y="277.0" width="16.6" height="2.8" fill="#111"/>
<rect x="350.4" y="272.3" width="16.6" height="4.8" fill="#ffff00"/>
<rect x="350.4" y="344.3" width="16.6" height="2" fill="#333399"/>
<rect x="350.4" y="272.4" width="16.6" height="73.9" fill="none" stroke="#000" stroke-width="1.2"/>
<path d="M330,271.3 L336,271.3 M355.5,271.3 L362,271.3" stroke="#777" stroke-width="0.6"/>
<text x="332.90" y="359.00" font-size="8" font-weight="bold"  text-anchor="middle" fill="#000" >PBS</text>
<text x="358.80" y="359.00" font-size="8" font-weight="bold"  text-anchor="middle" fill="#000" >BBI</text>
<text x="293.60" y="301.50" font-size="8.9" font-weight="bold"  text-anchor="middle" fill="#000" transform="rotate(-90 293.6 301.5)" >% of YFP<tspan font-size="6" dy="-3.5">+</tspan><tspan dy="3.5"> in each population</tspan></text>
<rect x="377.6" y="261.2" width="8.8" height="3.6" fill="#f0a0d0" stroke="#000" stroke-width="0.9"/>
<text x="391.70" y="265.60" font-size="7.2" font-weight="bold"  text-anchor="start" fill="#000" >Microglia</text>
<rect x="377.6" y="270.7" width="8.8" height="3.6" fill="#5050d0" stroke="#000" stroke-width="0.9"/>
<text x="391.70" y="275.10" font-size="7.2" font-weight="bold"  text-anchor="start" fill="#000" >Monocytes</text>
<rect x="377.6" y="279.2" width="8.8" height="3.6" fill="#ff6600" stroke="#000" stroke-width="0.9"/>
<text x="391.70" y="283.60" font-size="7.2" font-weight="bold"  text-anchor="start" fill="#000" >Macrophages</text>
<rect x="377.6" y="287.5" width="8.8" height="3.6" fill="#e00000" stroke="#000" stroke-width="0.9"/>
<text x="391.70" y="291.90" font-size="7.2" font-weight="bold"  text-anchor="start" fill="#000" >B cells</text>
<rect x="377.6" y="295.2" width="8.8" height="3.6" fill="#008000" stroke="#000" stroke-width="0.9"/>
<text x="391.70" y="299.60" font-size="7.2" font-weight="bold"  text-anchor="start" fill="#000" >pDCs</text>
<rect x="377.6" y="302.8" width="8.8" height="3.6" fill="#ffff00" stroke="#000" stroke-width="0.9"/>
<text x="391.70" y="307.20" font-size="7.2" font-weight="bold"  text-anchor="start" fill="#000" >Neutrophils</text>
<rect x="377.6" y="309.6" width="8.8" height="3.6" fill="#0c7590" stroke="#000" stroke-width="0.9"/>
<text x="391.70" y="314.00" font-size="7.2" font-weight="bold"  text-anchor="start" fill="#000" >cDCs 2</text>
<rect x="377.6" y="317.7" width="8.8" height="3.6" fill="#d0d0d0" stroke="#000" stroke-width="0.9"/>
<text x="391.70" y="322.10" font-size="7.2" font-weight="bold"  text-anchor="start" fill="#000" >cDCs 1</text>
<rect x="377.6" y="325.6" width="8.8" height="3.6" fill="#000000" stroke="#000" stroke-width="0.9"/>
<text x="391.70" y="330.00" font-size="7.2" font-weight="bold"  text-anchor="start" fill="#000" >CD8 T cells</text>
<rect x="377.6" y="332.7" width="8.8" height="3.6" fill="#9020c0" stroke="#000" stroke-width="0.9"/>
<text x="391.70" y="337.10" font-size="7.2" font-weight="bold"  text-anchor="start" fill="#000" >CD4 T cells</text>
<text x="470.30" y="229.90" font-size="16.6" font-weight="bold"  text-anchor="start" fill="#000" >D</text>
<rect x="511.05" y="240.80" width="110.70" height="90.50" fill="#fedfc3"/>
<text x="567.70" y="236.00" font-size="8.6" font-weight="bold"  text-anchor="middle" fill="#000" >Treatment period</text>
<line x1="507.0" y1="240.80" x2="507.0" y2="331.3" stroke="#000" stroke-width="1.3"/>
<line x1="507.0" y1="331.3" x2="642.00" y2="331.3" stroke="#000" stroke-width="1.3"/>
<line x1="504.5" y1="331.30" x2="507.0" y2="331.30" stroke="#000" stroke-width="0.9"/>
<text x="502.70" y="334.30" font-size="8.7" font-weight="bold"  text-anchor="end" fill="#000" >0</text>
<line x1="504.5" y1="313.20" x2="507.0" y2="313.20" stroke="#000" stroke-width="0.9"/>
<text x="502.70" y="316.20" font-size="8.7" font-weight="bold"  text-anchor="end" fill="#000" >1</text>
<line x1="504.5" y1="295.10" x2="507.0" y2="295.10" stroke="#000" stroke-width="0.9"/>
<text x="502.70" y="298.10" font-size="8.7" font-weight="bold"  text-anchor="end" fill="#000" >2</text>
<line x1="504.5" y1="277.00" x2="507.0" y2="277.00" stroke="#000" stroke-width="0.9"/>
<text x="502.70" y="280.00" font-size="8.7" font-weight="bold"  text-anchor="end" fill="#000" >3</text>
<line x1="504.5" y1="258.90" x2="507.0" y2="258.90" stroke="#000" stroke-width="0.9"/>
<text x="502.70" y="261.90" font-size="8.7" font-weight="bold"  text-anchor="end" fill="#000" >4</text>
<line x1="504.5" y1="240.80" x2="507.0" y2="240.80" stroke="#000" stroke-width="0.9"/>
<text x="502.70" y="243.80" font-size="8.7" font-weight="bold"  text-anchor="end" fill="#000" >5</text>
<line x1="507.00" y1="331.3" x2="507.00" y2="333.8" stroke="#000" stroke-width="0.9"/>
<text x="507.00" y="343.90" font-size="8.8" font-weight="bold"  text-anchor="middle" fill="#000" >0</text>
<line x1="534.00" y1="331.3" x2="534.00" y2="333.8" stroke="#000" stroke-width="0.9"/>
<text x="534.00" y="343.90" font-size="8.8" font-weight="bold"  text-anchor="middle" fill="#000" >5</text>
<line x1="561.00" y1="331.3" x2="561.00" y2="333.8" stroke="#000" stroke-width="0.9"/>
<text x="561.00" y="343.90" font-size="8.8" font-weight="bold"  text-anchor="middle" fill="#000" >10</text>
<line x1="588.00" y1="331.3" x2="588.00" y2="333.8" stroke="#000" stroke-width="0.9"/>
<text x="588.00" y="343.90" font-size="8.8" font-weight="bold"  text-anchor="middle" fill="#000" >15</text>
<line x1="615.00" y1="331.3" x2="615.00" y2="333.8" stroke="#000" stroke-width="0.9"/>
<text x="615.00" y="343.90" font-size="8.8" font-weight="bold"  text-anchor="middle" fill="#000" >20</text>
<line x1="642.00" y1="331.3" x2="642.00" y2="333.8" stroke="#000" stroke-width="0.9"/>
<text x="642.00" y="343.90" font-size="8.8" font-weight="bold"  text-anchor="middle" fill="#000" >25</text>
<text x="574.30" y="356.50" font-size="8.2" font-weight="bold"  text-anchor="middle" fill="#000" >d.p.i.</text>
<text x="495.60" y="288.40" font-size="8.6" font-weight="bold"  text-anchor="middle" fill="#000" transform="rotate(-90 495.6 288.4)" >Clinical score</text>
<path d="M512.40,331.30 L517.80,331.30 L523.20,331.30 L528.60,331.30 L534.00,331.30 L539.40,331.30 L544.80,331.30 L550.20,331.30 L555.60,331.30 L561.00,331.30 L566.40,331.30 L571.80,331.30 L577.20,331.30 L582.60,331.30 L588.00,327.14 L593.40,319.72 L598.80,319.72 L604.20,305.96 L609.60,305.96 L615.00,305.96 L620.40,305.96" fill="none" stroke="#111" stroke-width="0.75"/>
<path d="M588.00,327.14 L588.00,323.52 M585.70,323.52 L590.30,323.52" stroke="#222" stroke-width="0.85" fill="none"/>
<path d="M593.40,319.72 L593.40,313.38 M591.10,313.38 L595.70,313.38" stroke="#222" stroke-width="0.85" fill="none"/>
<path d="M598.80,319.72 L598.80,313.38 M596.50,313.38 L601.10,313.38" stroke="#222" stroke-width="0.85" fill="none"/>
<path d="M604.20,305.96 L604.20,301.44 M601.90,301.44 L606.50,301.44" stroke="#222" stroke-width="0.85" fill="none"/>
<path d="M609.60,305.96 L609.60,301.44 M607.30,301.44 L611.90,301.44" stroke="#222" stroke-width="0.85" fill="none"/>
<path d="M615.00,305.96 L615.00,301.44 M612.70,301.44 L617.30,301.44" stroke="#222" stroke-width="0.85" fill="none"/>
<path d="M620.40,305.96 L620.40,301.44 M618.10,301.44 L622.70,301.44" stroke="#222" stroke-width="0.85" fill="none"/>
<path d="M577.20,308.68 L582.60,292.93 L588.00,286.41 L593.40,283.88 L598.80,278.27 L604.20,275.19 L609.60,271.93 L615.00,272.48 L620.40,272.48" fill="none" stroke="#111" stroke-width="0.75"/>
<path d="M577.20,308.68 L577.20,306.87 M574.90,306.87 L579.50,306.87" stroke="#222" stroke-width="0.85" fill="none"/>
<path d="M582.60,292.93 L582.60,285.69 M580.30,285.69 L584.90,285.69" stroke="#222" stroke-width="0.85" fill="none"/>
<path d="M588.00,286.41 L588.00,280.98 M585.70,280.98 L590.30,280.98" stroke="#222" stroke-width="0.85" fill="none"/>
<path d="M593.40,283.88 L593.40,278.45 M591.10,278.45 L595.70,278.45" stroke="#222" stroke-width="0.85" fill="none"/>
<path d="M598.80,278.27 L598.80,272.84 M596.50,272.84 L601.10,272.84" stroke="#222" stroke-width="0.85" fill="none"/>
<path d="M604.20,275.19 L604.20,271.57 M601.90,271.57 L606.50,271.57" stroke="#222" stroke-width="0.85" fill="none"/>
<path d="M609.60,271.93 L609.60,268.31 M607.30,268.31 L611.90,268.31" stroke="#222" stroke-width="0.85" fill="none"/>
<path d="M615.00,272.48 L615.00,268.86 M612.70,268.86 L617.30,268.86" stroke="#222" stroke-width="0.85" fill="none"/>
<path d="M620.40,272.48 L620.40,268.86 M618.10,268.86 L622.70,268.86" stroke="#222" stroke-width="0.85" fill="none"/>
<path d="M571.80,326.78 L577.20,319.17 L582.60,307.77 L588.00,296.91 L593.40,291.48 L598.80,282.43 L604.20,276.10 L609.60,270.67 L615.00,266.14 L620.40,254.38" fill="none" stroke="#111" stroke-width="0.75"/>
<path d="M571.80,326.78 L571.80,324.97 M569.50,324.97 L574.10,324.97" stroke="#333" stroke-width="0.85" fill="none"/>
<path d="M577.20,319.17 L577.20,311.93 M574.90,311.93 L579.50,311.93" stroke="#333" stroke-width="0.85" fill="none"/>
<path d="M582.60,307.77 L582.60,296.91 M580.30,296.91 L584.90,296.91" stroke="#333" stroke-width="0.85" fill="none"/>
<path d="M588.00,296.91 L588.00,286.05 M585.70,286.05 L590.30,286.05" stroke="#333" stroke-width="0.85" fill="none"/>
<path d="M593.40,291.48 L593.40,273.38 M591.10,273.38 L595.70,273.38" stroke="#333" stroke-width="0.85" fill="none"/>
<path d="M598.80,282.43 L598.80,271.57 M596.50,271.57 L601.10,271.57" stroke="#333" stroke-width="0.85" fill="none"/>
<path d="M604.20,276.10 L604.20,267.05 M601.90,267.05 L606.50,267.05" stroke="#333" stroke-width="0.85" fill="none"/>
<path d="M609.60,270.67 L609.60,263.43 M607.30,263.43 L611.90,263.43" stroke="#333" stroke-width="0.85" fill="none"/>
<path d="M615.00,266.14 L615.00,259.81 M612.70,259.81 L617.30,259.81" stroke="#333" stroke-width="0.85" fill="none"/>
<path d="M620.40,254.38 L620.40,247.13 M618.10,247.13 L622.70,247.13" stroke="#333" stroke-width="0.85" fill="none"/>
<path d="M577.20,327.14 L582.60,311.03 L588.00,290.21 L593.40,283.34 L598.80,271.57 L604.20,269.40 L609.60,266.32 L615.00,267.41 L620.40,267.59" fill="none" stroke="#111" stroke-width="0.75"/>
<path d="M577.20,327.14 L577.20,323.52 M574.90,323.52 L579.50,323.52" stroke="#333" stroke-width="0.85" fill="none"/>
<path d="M582.60,311.03 L582.60,301.98 M580.30,301.98 L584.90,301.98" stroke="#333" stroke-width="0.85" fill="none"/>
<path d="M588.00,290.21 L588.00,279.35 M585.70,279.35 L590.30,279.35" stroke="#333" stroke-width="0.85" fill="none"/>
<path d="M593.40,283.34 L593.40,274.29 M591.10,274.29 L595.70,274.29" stroke="#333" stroke-width="0.85" fill="none"/>
<path d="M598.80,271.57 L598.80,264.33 M596.50,264.33 L601.10,264.33" stroke="#333" stroke-width="0.85" fill="none"/>
<path d="M604.20,269.40 L604.20,263.97 M601.90,263.97 L606.50,263.97" stroke="#333" stroke-width="0.85" fill="none"/>
<path d="M609.60,266.32 L609.60,260.89 M607.30,260.89 L611.90,260.89" stroke="#333" stroke-width="0.85" fill="none"/>
<path d="M615.00,267.41 L615.00,261.98 M612.70,261.98 L617.30,261.98" stroke="#333" stroke-width="0.85" fill="none"/>
<path d="M620.40,267.59 L620.40,262.16 M618.10,262.16 L622.70,262.16" stroke="#333" stroke-width="0.85" fill="none"/>
<circle cx="512.40" cy="331.30" r="2.9" fill="#fa6814"/>
<circle cx="517.80" cy="331.30" r="2.9" fill="#fa6814"/>
<circle cx="523.20" cy="331.30" r="2.9" fill="#fa6814"/>
<circle cx="528.60" cy="331.30" r="2.9" fill="#fa6814"/>
<circle cx="534.00" cy="331.30" r="2.9" fill="#fa6814"/>
<circle cx="539.40" cy="331.30" r="2.9" fill="#fa6814"/>
<circle cx="544.80" cy="331.30" r="2.9" fill="#fa6814"/>
<circle cx="550.20" cy="331.30" r="2.9" fill="#fa6814"/>
<circle cx="555.60" cy="331.30" r="2.9" fill="#fa6814"/>
<circle cx="561.00" cy="331.30" r="2.9" fill="#fa6814"/>
<circle cx="566.40" cy="331.30" r="2.9" fill="#fa6814"/>
<circle cx="571.80" cy="331.30" r="2.9" fill="#fa6814"/>
<circle cx="577.20" cy="331.30" r="2.9" fill="#fa6814"/>
<circle cx="582.60" cy="331.30" r="2.9" fill="#fa6814"/>
<circle cx="588.00" cy="327.14" r="2.9" fill="#fa6814"/>
<circle cx="593.40" cy="319.72" r="2.9" fill="#fa6814"/>
<circle cx="598.80" cy="319.72" r="2.9" fill="#fa6814"/>
<circle cx="604.20" cy="305.96" r="2.9" fill="#fa6814"/>
<circle cx="609.60" cy="305.96" r="2.9" fill="#fa6814"/>
<circle cx="615.00" cy="305.96" r="2.9" fill="#fa6814"/>
<circle cx="620.40" cy="305.96" r="2.9" fill="#fa6814"/>
<circle cx="577.20" cy="308.68" r="2.4" fill="none" stroke="#fa6814" stroke-width="1.05"/>
<circle cx="582.60" cy="292.93" r="2.4" fill="none" stroke="#fa6814" stroke-width="1.05"/>
<circle cx="588.00" cy="286.41" r="2.4" fill="none" stroke="#fa6814" stroke-width="1.05"/>
<circle cx="593.40" cy="283.88" r="2.4" fill="none" stroke="#fa6814" stroke-width="1.05"/>
<circle cx="598.80" cy="278.27" r="2.4" fill="none" stroke="#fa6814" stroke-width="1.05"/>
<circle cx="604.20" cy="275.19" r="2.4" fill="none" stroke="#fa6814" stroke-width="1.05"/>
<circle cx="609.60" cy="271.93" r="2.4" fill="none" stroke="#fa6814" stroke-width="1.05"/>
<circle cx="615.00" cy="272.48" r="2.4" fill="none" stroke="#fa6814" stroke-width="1.05"/>
<circle cx="620.40" cy="272.48" r="2.4" fill="none" stroke="#fa6814" stroke-width="1.05"/>
<circle cx="571.80" cy="326.78" r="2.4" fill="none" stroke="#000" stroke-width="1.05"/>
<circle cx="577.20" cy="319.17" r="2.4" fill="none" stroke="#000" stroke-width="1.05"/>
<circle cx="582.60" cy="307.77" r="2.4" fill="none" stroke="#000" stroke-width="1.05"/>
<circle cx="588.00" cy="296.91" r="2.4" fill="none" stroke="#000" stroke-width="1.05"/>
<circle cx="593.40" cy="291.48" r="2.4" fill="none" stroke="#000" stroke-width="1.05"/>
<circle cx="598.80" cy="282.43" r="2.4" fill="none" stroke="#000" stroke-width="1.05"/>
<circle cx="604.20" cy="276.10" r="2.4" fill="none" stroke="#000" stroke-width="1.05"/>
<circle cx="609.60" cy="270.67" r="2.4" fill="none" stroke="#000" stroke-width="1.05"/>
<circle cx="615.00" cy="266.14" r="2.4" fill="none" stroke="#000" stroke-width="1.05"/>
<circle cx="620.40" cy="254.38" r="2.4" fill="none" stroke="#000" stroke-width="1.05"/>
<circle cx="577.20" cy="327.14" r="2.9" fill="#000"/>
<circle cx="582.60" cy="311.03" r="2.9" fill="#000"/>
<circle cx="588.00" cy="290.21" r="2.9" fill="#000"/>
<circle cx="593.40" cy="283.34" r="2.9" fill="#000"/>
<circle cx="598.80" cy="271.57" r="2.9" fill="#000"/>
<circle cx="604.20" cy="269.40" r="2.9" fill="#000"/>
<circle cx="609.60" cy="266.32" r="2.9" fill="#000"/>
<circle cx="615.00" cy="267.41" r="2.9" fill="#000"/>
<circle cx="620.40" cy="267.59" r="2.9" fill="#000"/>
<line x1="508.5" y1="247.3" x2="517" y2="247.3" stroke="#000" stroke-width="0.8"/>
<circle cx="512.70" cy="247.30" r="2.4" fill="none" stroke="#000" stroke-width="1.05"/>
<text x="522.40" y="250.10" font-size="7.5" font-weight="bold"  text-anchor="start" fill="#000" >IFNAR1 cKO PBS</text>
<line x1="508.5" y1="259.5" x2="517" y2="259.5" stroke="#fa6814" stroke-width="0.8"/>
<circle cx="512.70" cy="259.50" r="2.4" fill="none" stroke="#fa6814" stroke-width="1.05"/>
<text x="522.40" y="262.30" font-size="7.5" font-weight="bold"  text-anchor="start" fill="#000" >IFNAR1 cKO BBI</text>
<line x1="508.5" y1="273.6" x2="517" y2="273.6" stroke="#000" stroke-width="0.8"/>
<circle cx="512.70" cy="273.60" r="2.9" fill="#000"/>
<text x="522.40" y="276.40" font-size="7.5" font-weight="bold"  text-anchor="start" fill="#000" >Ctrl PBS</text>
<line x1="508.5" y1="285.8" x2="517" y2="285.8" stroke="#fa6814" stroke-width="0.8"/>
<circle cx="512.70" cy="285.80" r="2.9" fill="#fa6814"/>
<text x="522.40" y="288.60" font-size="7.5" font-weight="bold"  text-anchor="start" fill="#000" >Ctrl BBI</text>
<line x1="626.6" y1="273" x2="626.6" y2="306.5" stroke="#000" stroke-width="0.8"/>
<text x="627.80" y="294.50" font-size="10.5"   text-anchor="start" fill="#000" >**</text>
<text x="36.30" y="419.60" font-size="16.6" font-weight="bold"  text-anchor="start" fill="#000" >E</text>
<rect x="110.10" y="442.10" width="13.61" height="13.52" fill="#ffffff"/>
<rect x="123.71" y="442.10" width="13.61" height="13.52" fill="#ffffff"/>
<rect x="137.32" y="442.10" width="13.61" height="13.52" fill="#ffffff"/>
<rect x="150.93" y="442.10" width="13.61" height="13.52" fill="#ffffff"/>
<rect x="164.54" y="442.10" width="13.61" height="13.52" fill="#ffffff"/>
<rect x="178.15" y="442.10" width="13.61" height="13.52" fill="#ffffff"/>
<rect x="191.76" y="442.10" width="13.61" height="13.52" fill="#ffffff"/>
<rect x="205.37" y="442.10" width="13.61" height="13.52" fill="#ffffff"/>
<rect x="218.98" y="442.10" width="13.61" height="13.52" fill="#ffffff"/>
<rect x="232.59" y="442.10" width="13.61" height="13.52" fill="#ffffff"/>
<rect x="246.20" y="442.10" width="13.61" height="13.52" fill="#ffffff"/>
<rect x="259.81" y="442.10" width="13.61" height="13.52" fill="#ffffff"/>
<rect x="273.42" y="442.10" width="13.61" height="13.52" fill="#ffffff"/>
<rect x="110.10" y="455.62" width="13.61" height="13.52" fill="#f04a4a"/>
<rect x="123.71" y="455.62" width="13.61" height="13.52" fill="#f35a5a"/>
<rect x="137.32" y="455.62" width="13.61" height="13.52" fill="#f03434"/>
<rect x="150.93" y="455.62" width="13.61" height="13.52" fill="#f04444"/>
<rect x="164.54" y="455.62" width="13.61" height="13.52" fill="#f89090"/>
<rect x="178.15" y="455.62" width="13.61" height="13.52" fill="#a4a4f2"/>
<rect x="191.76" y="455.62" width="13.61" height="13.52" fill="#c4c4f8"/>
<rect x="205.37" y="455.62" width="13.61" height="13.52" fill="#b4b4f2"/>
<rect x="218.98" y="455.62" width="13.61" height="13.52" fill="#e2e2f8"/>
<rect x="232.59" y="455.62" width="13.61" height="13.52" fill="#e2e2f8"/>
<rect x="246.20" y="455.62" width="13.61" height="13.52" fill="#cacaf8"/>
<rect x="259.81" y="455.62" width="13.61" height="13.52" fill="#b0b0f0"/>
<rect x="273.42" y="455.62" width="13.61" height="13.52" fill="#fff0f0"/>
<rect x="110.10" y="469.14" width="13.61" height="13.52" fill="#9494f0"/>
<rect x="123.71" y="469.14" width="13.61" height="13.52" fill="#4c4cf0"/>
<rect x="137.32" y="469.14" width="13.61" height="13.52" fill="#ffe0e0"/>
<rect x="150.93" y="469.14" width="13.61" height="13.52" fill="#0000ff"/>
<rect x="164.54" y="469.14" width="13.61" height="13.52" fill="#7272f0"/>
<rect x="178.15" y="469.14" width="13.61" height="13.52" fill="#f88080"/>
<rect x="191.76" y="469.14" width="13.61" height="13.52" fill="#f05050"/>
<rect x="205.37" y="469.14" width="13.61" height="13.52" fill="#f8a0a0"/>
<rect x="218.98" y="469.14" width="13.61" height="13.52" fill="#f89090"/>
<rect x="232.59" y="469.14" width="13.61" height="13.52" fill="#f03232"/>
<rect x="246.20" y="469.14" width="13.61" height="13.52" fill="#f04848"/>
<rect x="259.81" y="469.14" width="13.61" height="13.52" fill="#f04848"/>
<rect x="273.42" y="469.14" width="13.61" height="13.52" fill="#f89898"/>
<rect x="110.10" y="482.66" width="13.61" height="13.52" fill="#f03030"/>
<rect x="123.71" y="482.66" width="13.61" height="13.52" fill="#f87070"/>
<rect x="137.32" y="482.66" width="13.61" height="13.52" fill="#f05050"/>
<rect x="150.93" y="482.66" width="13.61" height="13.52" fill="#f86868"/>
<rect x="164.54" y="482.66" width="13.61" height="13.52" fill="#f89090"/>
<rect x="178.15" y="482.66" width="13.61" height="13.52" fill="#7070f0"/>
<rect x="191.76" y="482.66" width="13.61" height="13.52" fill="#f8a0a0"/>
<rect x="205.37" y="482.66" width="13.61" height="13.52" fill="#a0a0f0"/>
<rect x="218.98" y="482.66" width="13.61" height="13.52" fill="#d0d0f8"/>
<rect x="232.59" y="482.66" width="13.61" height="13.52" fill="#f06060"/>
<rect x="246.20" y="482.66" width="13.61" height="13.52" fill="#f87070"/>
<rect x="259.81" y="482.66" width="13.61" height="13.52" fill="#3434e0"/>
<rect x="273.42" y="482.66" width="13.61" height="13.52" fill="#e8e8fc"/>
<line x1="109.60" y1="442.10" x2="287.53" y2="442.10" stroke="#000" stroke-width="1.1"/>
<line x1="109.60" y1="455.62" x2="287.53" y2="455.62" stroke="#000" stroke-width="1.1"/>
<line x1="109.60" y1="469.14" x2="287.53" y2="469.14" stroke="#000" stroke-width="1.1"/>
<line x1="109.60" y1="482.66" x2="287.53" y2="482.66" stroke="#000" stroke-width="1.1"/>
<line x1="109.60" y1="496.18" x2="287.53" y2="496.18" stroke="#000" stroke-width="1.1"/>
<line x1="110.10" y1="442.10" x2="110.10" y2="496.18" stroke="#000" stroke-width="1.1"/>
<line x1="123.71" y1="442.10" x2="123.71" y2="496.18" stroke="#000" stroke-width="1.1"/>
<line x1="137.32" y1="442.10" x2="137.32" y2="496.18" stroke="#000" stroke-width="1.1"/>
<line x1="150.93" y1="442.10" x2="150.93" y2="496.18" stroke="#000" stroke-width="1.1"/>
<line x1="164.54" y1="442.10" x2="164.54" y2="496.18" stroke="#000" stroke-width="1.1"/>
<line x1="178.15" y1="442.10" x2="178.15" y2="496.18" stroke="#000" stroke-width="1.1"/>
<line x1="191.76" y1="442.10" x2="191.76" y2="496.18" stroke="#000" stroke-width="1.1"/>
<line x1="205.37" y1="442.10" x2="205.37" y2="496.18" stroke="#000" stroke-width="1.1"/>
<line x1="218.98" y1="442.10" x2="218.98" y2="496.18" stroke="#000" stroke-width="1.1"/>
<line x1="232.59" y1="442.10" x2="232.59" y2="496.18" stroke="#000" stroke-width="1.1"/>
<line x1="246.20" y1="442.10" x2="246.20" y2="496.18" stroke="#000" stroke-width="1.1"/>
<line x1="259.81" y1="442.10" x2="259.81" y2="496.18" stroke="#000" stroke-width="1.1"/>
<line x1="273.42" y1="442.10" x2="273.42" y2="496.18" stroke="#000" stroke-width="1.1"/>
<line x1="287.03" y1="442.10" x2="287.03" y2="496.18" stroke="#000" stroke-width="1.1"/>
<rect x="110.10" y="442.10" width="176.93" height="54.08" fill="none" stroke="#000" stroke-width="1.6"/>
<line x1="106.90" y1="448.86" x2="110.10" y2="448.86" stroke="#000" stroke-width="1.1"/>
<text x="104.60" y="452.23" font-size="7.7" font-weight="bold"  text-anchor="end" fill="#000" >WT PBS</text>
<line x1="106.90" y1="462.38" x2="110.10" y2="462.38" stroke="#000" stroke-width="1.1"/>
<text x="104.60" y="465.75" font-size="7.7" font-weight="bold"  text-anchor="end" fill="#000" >IFNAR1 cKO PBS</text>
<line x1="106.90" y1="475.90" x2="110.10" y2="475.90" stroke="#000" stroke-width="1.1"/>
<text x="104.60" y="479.27" font-size="7.7" font-weight="bold"  text-anchor="end" fill="#000" >WT BBI</text>
<line x1="106.90" y1="489.42" x2="110.10" y2="489.42" stroke="#000" stroke-width="1.1"/>
<text x="104.60" y="492.79" font-size="7.7" font-weight="bold"  text-anchor="end" fill="#000" >IFNAR1 cKO BBI</text>
<line x1="116.91" y1="439.60" x2="116.91" y2="442.10" stroke="#000" stroke-width="0.8"/>
<text x="118.41" y="438.10" font-size="8.0" font-style="italic"  text-anchor="start" fill="#000" transform="rotate(-45 118.41 438.10)">Il23</text>
<line x1="130.51" y1="439.60" x2="130.51" y2="442.10" stroke="#000" stroke-width="0.8"/>
<text x="132.01" y="438.10" font-size="8.0" font-style="italic"  text-anchor="start" fill="#000" transform="rotate(-45 132.01 438.10)">Il1&#946;</text>
<line x1="144.12" y1="439.60" x2="144.12" y2="442.10" stroke="#000" stroke-width="0.8"/>
<text x="145.62" y="438.10" font-size="8.0" font-style="italic"  text-anchor="start" fill="#000" transform="rotate(-45 145.62 438.10)">Nos2</text>
<line x1="157.74" y1="439.60" x2="157.74" y2="442.10" stroke="#000" stroke-width="0.8"/>
<text x="159.24" y="438.10" font-size="8.0" font-style="italic"  text-anchor="start" fill="#000" transform="rotate(-45 159.24 438.10)">Tnf</text>
<line x1="171.34" y1="439.60" x2="171.34" y2="442.10" stroke="#000" stroke-width="0.8"/>
<text x="172.84" y="438.10" font-size="8.0" font-style="italic"  text-anchor="start" fill="#000" transform="rotate(-45 172.84 438.10)">Il6</text>
<line x1="184.95" y1="439.60" x2="184.95" y2="442.10" stroke="#000" stroke-width="0.8"/>
<text x="186.45" y="438.10" font-size="8.0" font-style="italic"  text-anchor="start" fill="#000" transform="rotate(-45 186.45 438.10)">Mx1</text>
<line x1="198.56" y1="439.60" x2="198.56" y2="442.10" stroke="#000" stroke-width="0.8"/>
<text x="200.06" y="438.10" font-size="8.0" font-style="italic"  text-anchor="start" fill="#000" transform="rotate(-45 200.06 438.10)">Irf3</text>
<line x1="212.18" y1="439.60" x2="212.18" y2="442.10" stroke="#000" stroke-width="0.8"/>
<text x="213.68" y="438.10" font-size="8.0" font-style="italic"  text-anchor="start" fill="#000" transform="rotate(-45 213.68 438.10)">Stat3</text>
<line x1="225.78" y1="439.60" x2="225.78" y2="442.10" stroke="#000" stroke-width="0.8"/>
<text x="227.28" y="438.10" font-size="8.0" font-style="italic"  text-anchor="start" fill="#000" transform="rotate(-45 227.28 438.10)">Stat1</text>
<line x1="239.39" y1="439.60" x2="239.39" y2="442.10" stroke="#000" stroke-width="0.8"/>
<text x="240.89" y="438.10" font-size="8.0" font-style="italic"  text-anchor="start" fill="#000" transform="rotate(-45 240.89 438.10)">Sting</text>
<line x1="253.00" y1="439.60" x2="253.00" y2="442.10" stroke="#000" stroke-width="0.8"/>
<text x="254.50" y="438.10" font-size="8.0" font-style="italic"  text-anchor="start" fill="#000" transform="rotate(-45 254.50 438.10)">Tbk1</text>
<line x1="266.61" y1="439.60" x2="266.61" y2="442.10" stroke="#000" stroke-width="0.8"/>
<text x="268.11" y="438.10" font-size="8.0" font-style="italic"  text-anchor="start" fill="#000" transform="rotate(-45 268.11 438.10)">Il10</text>
<line x1="280.22" y1="439.60" x2="280.22" y2="442.10" stroke="#000" stroke-width="0.8"/>
<text x="281.72" y="438.10" font-size="8.0" font-style="italic"  text-anchor="start" fill="#000" transform="rotate(-45 281.72 438.10)">Timp1</text>
<rect x="179.90" y="499.9" width="1.07" height="10" fill="#0606ff"/>
<rect x="180.83" y="499.9" width="1.07" height="10" fill="#1313ff"/>
<rect x="181.75" y="499.9" width="1.07" height="10" fill="#1f1fff"/>
<rect x="182.68" y="499.9" width="1.07" height="10" fill="#2c2cff"/>
<rect x="183.60" y="499.9" width="1.07" height="10" fill="#3939ff"/>
<rect x="184.53" y="499.9" width="1.07" height="10" fill="#4646ff"/>
<rect x="185.45" y="499.9" width="1.07" height="10" fill="#5252ff"/>
<rect x="186.38" y="499.9" width="1.07" height="10" fill="#5f5fff"/>
<rect x="187.30" y="499.9" width="1.07" height="10" fill="#6c6cff"/>
<rect x="188.22" y="499.9" width="1.07" height="10" fill="#7979ff"/>
<rect x="189.15" y="499.9" width="1.07" height="10" fill="#8585ff"/>
<rect x="190.08" y="499.9" width="1.07" height="10" fill="#9292ff"/>
<rect x="191.00" y="499.9" width="1.07" height="10" fill="#9f9fff"/>
<rect x="191.93" y="499.9" width="1.07" height="10" fill="#acacff"/>
<rect x="192.85" y="499.9" width="1.07" height="10" fill="#b8b8ff"/>
<rect x="193.78" y="499.9" width="1.07" height="10" fill="#c5c5ff"/>
<rect x="194.70" y="499.9" width="1.07" height="10" fill="#d2d2ff"/>
<rect x="195.62" y="499.9" width="1.07" height="10" fill="#dfdfff"/>
<rect x="196.55" y="499.9" width="1.07" height="10" fill="#ebebff"/>
<rect x="197.47" y="499.9" width="1.07" height="10" fill="#f8f8ff"/>
<rect x="198.40" y="499.9" width="1.07" height="10" fill="#fff8f8"/>
<rect x="199.33" y="499.9" width="1.07" height="10" fill="#ffebeb"/>
<rect x="200.25" y="499.9" width="1.07" height="10" fill="#ffdfdf"/>
<rect x="201.18" y="499.9" width="1.07" height="10" fill="#ffd2d2"/>
<rect x="202.10" y="499.9" width="1.07" height="10" fill="#ffc5c5"/>
<rect x="203.03" y="499.9" width="1.07" height="10" fill="#ffb8b8"/>
<rect x="203.95" y="499.9" width="1.07" height="10" fill="#ffacac"/>
<rect x="204.88" y="499.9" width="1.07" height="10" fill="#ff9f9f"/>
<rect x="205.80" y="499.9" width="1.07" height="10" fill="#ff9292"/>
<rect x="206.72" y="499.9" width="1.07" height="10" fill="#ff8585"/>
<rect x="207.65" y="499.9" width="1.07" height="10" fill="#ff7979"/>
<rect x="208.58" y="499.9" width="1.07" height="10" fill="#ff6c6c"/>
<rect x="209.50" y="499.9" width="1.07" height="10" fill="#ff5f5f"/>
<rect x="210.43" y="499.9" width="1.07" height="10" fill="#ff5252"/>
<rect x="211.35" y="499.9" width="1.07" height="10" fill="#ff4646"/>
<rect x="212.28" y="499.9" width="1.07" height="10" fill="#ff3939"/>
<rect x="213.20" y="499.9" width="1.07" height="10" fill="#ff2c2c"/>
<rect x="214.12" y="499.9" width="1.07" height="10" fill="#ff1f1f"/>
<rect x="215.05" y="499.9" width="1.07" height="10" fill="#ff1313"/>
<rect x="215.98" y="499.9" width="1.07" height="10" fill="#ff0606"/>
<rect x="179.9" y="499.9" width="37" height="10" fill="none" stroke="#000" stroke-width="0.9"/>
<path d="M186.07,499.9 L186.07,501.7 M186.07,509.9 L186.07,508.09999999999997" stroke="#000" stroke-width="0.7"/>
<path d="M192.23,499.9 L192.23,501.7 M192.23,509.9 L192.23,508.09999999999997" stroke="#000" stroke-width="0.7"/>
<path d="M198.40,499.9 L198.40,501.7 M198.40,509.9 L198.40,508.09999999999997" stroke="#000" stroke-width="0.7"/>
<path d="M204.57,499.9 L204.57,501.7 M204.57,509.9 L204.57,508.09999999999997" stroke="#000" stroke-width="0.7"/>
<path d="M210.73,499.9 L210.73,501.7 M210.73,509.9 L210.73,508.09999999999997" stroke="#000" stroke-width="0.7"/>
<text x="182.00" y="517.00" font-size="6.6" font-weight="bold"  text-anchor="middle" fill="#000" >-3</text>
<text x="198.30" y="517.00" font-size="6.6" font-weight="bold"  text-anchor="middle" fill="#000" >0</text>
<text x="214.80" y="517.00" font-size="6.6" font-weight="bold"  text-anchor="middle" fill="#000" >3</text>
<text x="198.90" y="524.20" font-size="7.4" font-weight="bold"  text-anchor="middle" fill="#000" >mRNA (RQ)</text>
<text x="321.40" y="411.40" font-size="16.6" font-weight="bold"  text-anchor="start" fill="#000" >F</text>
<rect x="350.61" y="421.60" width="111.86" height="95.20" fill="#fedfc3"/>
<text x="408.10" y="420.30" font-size="8.6" font-weight="bold"  text-anchor="middle" fill="#000" >Treatment period</text>
<line x1="348.0" y1="423.92" x2="348.0" y2="516.8" stroke="#000" stroke-width="1.3"/>
<line x1="348.0" y1="516.8" x2="466.50" y2="516.8" stroke="#000" stroke-width="1.3"/>
<line x1="345.5" y1="516.80" x2="348.0" y2="516.80" stroke="#000" stroke-width="0.9"/>
<text x="344.50" y="520.00" font-size="9" font-weight="bold"  text-anchor="end" fill="#000" >0</text>
<line x1="345.5" y1="493.58" x2="348.0" y2="493.58" stroke="#000" stroke-width="0.9"/>
<text x="344.50" y="496.78" font-size="9" font-weight="bold"  text-anchor="end" fill="#000" >1</text>
<line x1="345.5" y1="470.36" x2="348.0" y2="470.36" stroke="#000" stroke-width="0.9"/>
<text x="344.50" y="473.56" font-size="9" font-weight="bold"  text-anchor="end" fill="#000" >2</text>
<line x1="345.5" y1="447.14" x2="348.0" y2="447.14" stroke="#000" stroke-width="0.9"/>
<text x="344.50" y="450.34" font-size="9" font-weight="bold"  text-anchor="end" fill="#000" >3</text>
<line x1="345.5" y1="423.92" x2="348.0" y2="423.92" stroke="#000" stroke-width="0.9"/>
<text x="344.50" y="427.12" font-size="9" font-weight="bold"  text-anchor="end" fill="#000" >4</text>
<line x1="348.00" y1="516.8" x2="348.00" y2="519.3" stroke="#000" stroke-width="0.9"/>
<text x="348.00" y="531.00" font-size="9" font-weight="bold"  text-anchor="middle" fill="#000" >0</text>
<line x1="371.70" y1="516.8" x2="371.70" y2="519.3" stroke="#000" stroke-width="0.9"/>
<text x="371.70" y="531.00" font-size="9" font-weight="bold"  text-anchor="middle" fill="#000" >5</text>
<line x1="395.40" y1="516.8" x2="395.40" y2="519.3" stroke="#000" stroke-width="0.9"/>
<text x="395.40" y="531.00" font-size="9" font-weight="bold"  text-anchor="middle" fill="#000" >10</text>
<line x1="419.10" y1="516.8" x2="419.10" y2="519.3" stroke="#000" stroke-width="0.9"/>
<text x="419.10" y="531.00" font-size="9" font-weight="bold"  text-anchor="middle" fill="#000" >15</text>
<line x1="442.80" y1="516.8" x2="442.80" y2="519.3" stroke="#000" stroke-width="0.9"/>
<text x="442.80" y="531.00" font-size="9" font-weight="bold"  text-anchor="middle" fill="#000" >20</text>
<line x1="466.50" y1="516.8" x2="466.50" y2="519.3" stroke="#000" stroke-width="0.9"/>
<text x="466.50" y="531.00" font-size="9" font-weight="bold"  text-anchor="middle" fill="#000" >25</text>
<text x="408.10" y="542.50" font-size="9" font-weight="bold"  text-anchor="middle" fill="#000" >d.p.i.</text>
<text x="337.10" y="473.90" font-size="8.8" font-weight="bold"  text-anchor="middle" fill="#000" transform="rotate(-90 337.1 473.9)" >Clinical score</text>
<path d="M395.40,516.80 L400.14,493.58 L409.62,463.39 L414.36,445.98 L419.10,442.03" fill="none" stroke="#111" stroke-width="0.75"/>
<path d="M409.62,463.39 L409.62,456.43 M407.32,456.43 L411.92,456.43" stroke="#222" stroke-width="0.85" fill="none"/>
<path d="M414.36,445.98 L414.36,439.01 M412.06,439.01 L416.66,439.01" stroke="#222" stroke-width="0.85" fill="none"/>
<path d="M419.10,442.03 L419.10,435.07 M416.80,435.07 L421.40,435.07" stroke="#222" stroke-width="0.85" fill="none"/>
<path d="M414.36,516.80 L419.10,502.87 L423.84,491.26 L428.58,486.61 L433.32,486.61 L438.06,484.06 L442.80,484.06 L447.54,484.06 L452.28,484.06 L457.02,484.06 L461.76,484.06" fill="none" stroke="#111" stroke-width="0.75"/>
<path d="M419.10,502.87 L419.10,491.26 M416.80,491.26 L421.40,491.26" stroke="#222" stroke-width="0.85" fill="none"/>
<path d="M423.84,491.26 L423.84,483.13 M421.54,483.13 L426.14,483.13" stroke="#222" stroke-width="0.85" fill="none"/>
<path d="M428.58,486.61 L428.58,476.16 M426.28,476.16 L430.88,476.16" stroke="#222" stroke-width="0.85" fill="none"/>
<path d="M433.32,486.61 L433.32,476.16 M431.02,476.16 L435.62,476.16" stroke="#222" stroke-width="0.85" fill="none"/>
<path d="M438.06,484.06 L438.06,471.29 M435.76,471.29 L440.36,471.29" stroke="#222" stroke-width="0.85" fill="none"/>
<path d="M442.80,484.06 L442.80,471.29 M440.50,471.29 L445.10,471.29" stroke="#222" stroke-width="0.85" fill="none"/>
<path d="M447.54,484.06 L447.54,471.29 M445.24,471.29 L449.84,471.29" stroke="#222" stroke-width="0.85" fill="none"/>
<path d="M452.28,484.06 L452.28,471.29 M449.98,471.29 L454.58,471.29" stroke="#222" stroke-width="0.85" fill="none"/>
<path d="M457.02,484.06 L457.02,471.29 M454.72,471.29 L459.32,471.29" stroke="#222" stroke-width="0.85" fill="none"/>
<path d="M461.76,484.06 L461.76,471.29 M459.46,471.29 L464.06,471.29" stroke="#222" stroke-width="0.85" fill="none"/>
<path d="M400.14,516.80 L404.88,488.94 L409.62,461.07 L414.36,451.78 L419.10,445.98 L423.84,442.50 L428.58,441.33 L433.32,441.33 L438.06,441.33 L442.80,441.33 L447.54,442.50 L452.28,444.82 L457.02,447.14 L461.76,449.46" fill="none" stroke="#111" stroke-width="0.75"/>
<path d="M404.88,488.94 L404.88,469.20 M402.58,469.20 L407.18,469.20" stroke="#333" stroke-width="0.85" fill="none"/>
<path d="M409.62,461.07 L409.62,451.78 M407.32,451.78 L411.92,451.78" stroke="#333" stroke-width="0.85" fill="none"/>
<path d="M414.36,451.78 L414.36,442.50 M412.06,442.50 L416.66,442.50" stroke="#333" stroke-width="0.85" fill="none"/>
<path d="M419.10,445.98 L419.10,434.37 M416.80,434.37 L421.40,434.37" stroke="#333" stroke-width="0.85" fill="none"/>
<path d="M423.84,442.50 L423.84,433.21 M421.54,433.21 L426.14,433.21" stroke="#333" stroke-width="0.85" fill="none"/>
<path d="M428.58,441.33 L428.58,433.21 M426.28,433.21 L430.88,433.21" stroke="#333" stroke-width="0.85" fill="none"/>
<path d="M433.32,441.33 L433.32,433.21 M431.02,433.21 L435.62,433.21" stroke="#333" stroke-width="0.85" fill="none"/>
<path d="M438.06,441.33 L438.06,433.21 M435.76,433.21 L440.36,433.21" stroke="#333" stroke-width="0.85" fill="none"/>
<path d="M442.80,441.33 L442.80,434.37 M440.50,434.37 L445.10,434.37" stroke="#333" stroke-width="0.85" fill="none"/>
<path d="M447.54,442.50 L447.54,435.53 M445.24,435.53 L449.84,435.53" stroke="#333" stroke-width="0.85" fill="none"/>
<path d="M452.28,444.82 L452.28,440.17 M449.98,440.17 L454.58,440.17" stroke="#333" stroke-width="0.85" fill="none"/>
<path d="M457.02,447.14 L457.02,442.50 M454.72,442.50 L459.32,442.50" stroke="#333" stroke-width="0.85" fill="none"/>
<path d="M461.76,449.46 L461.76,444.82 M459.46,444.82 L464.06,444.82" stroke="#333" stroke-width="0.85" fill="none"/>
<path d="M352.74,516.80 L357.48,516.80 L362.22,516.80 L366.96,516.80 L371.70,516.80 L376.44,516.80 L381.18,516.80 L385.92,516.80 L390.66,516.80 L395.40,516.80 L400.14,516.80 L404.88,516.80 L409.62,516.80 L414.36,490.79 L419.10,468.04 L423.84,449.46 L428.58,444.35 L433.32,444.35 L438.06,444.35 L442.80,444.35 L447.54,444.35 L452.28,447.60 L457.02,451.78 L461.76,451.78" fill="none" stroke="#111" stroke-width="0.75"/>
<path d="M414.36,490.79 L414.36,483.83 M412.06,483.83 L416.66,483.83" stroke="#333" stroke-width="0.85" fill="none"/>
<path d="M419.10,468.04 L419.10,461.07 M416.80,461.07 L421.40,461.07" stroke="#333" stroke-width="0.85" fill="none"/>
<path d="M423.84,449.46 L423.84,442.50 M421.54,442.50 L426.14,442.50" stroke="#333" stroke-width="0.85" fill="none"/>
<path d="M428.58,444.35 L428.58,438.55 M426.28,438.55 L430.88,438.55" stroke="#333" stroke-width="0.85" fill="none"/>
<path d="M433.32,444.35 L433.32,438.55 M431.02,438.55 L435.62,438.55" stroke="#333" stroke-width="0.85" fill="none"/>
<path d="M438.06,444.35 L438.06,438.55 M435.76,438.55 L440.36,438.55" stroke="#333" stroke-width="0.85" fill="none"/>
<path d="M442.80,444.35 L442.80,438.55 M440.50,438.55 L445.10,438.55" stroke="#333" stroke-width="0.85" fill="none"/>
<path d="M447.54,444.35 L447.54,438.55 M445.24,438.55 L449.84,438.55" stroke="#333" stroke-width="0.85" fill="none"/>
<path d="M452.28,447.60 L452.28,442.96 M449.98,442.96 L454.58,442.96" stroke="#333" stroke-width="0.85" fill="none"/>
<path d="M457.02,451.78 L457.02,447.14 M454.72,447.14 L459.32,447.14" stroke="#333" stroke-width="0.85" fill="none"/>
<path d="M461.76,451.78 L461.76,447.14 M459.46,447.14 L464.06,447.14" stroke="#333" stroke-width="0.85" fill="none"/>
<circle cx="395.40" cy="516.80" r="2.2" fill="none" stroke="#fa6814" stroke-width="1.05"/>
<circle cx="400.14" cy="493.58" r="2.2" fill="none" stroke="#fa6814" stroke-width="1.05"/>
<circle cx="409.62" cy="463.39" r="2.2" fill="none" stroke="#fa6814" stroke-width="1.05"/>
<circle cx="414.36" cy="445.98" r="2.2" fill="none" stroke="#fa6814" stroke-width="1.05"/>
<circle cx="419.10" cy="442.03" r="2.2" fill="none" stroke="#fa6814" stroke-width="1.05"/>
<circle cx="414.36" cy="516.80" r="2.7" fill="#fa6814"/>
<circle cx="419.10" cy="502.87" r="2.7" fill="#fa6814"/>
<circle cx="423.84" cy="491.26" r="2.7" fill="#fa6814"/>
<circle cx="428.58" cy="486.61" r="2.7" fill="#fa6814"/>
<circle cx="433.32" cy="486.61" r="2.7" fill="#fa6814"/>
<circle cx="438.06" cy="484.06" r="2.7" fill="#fa6814"/>
<circle cx="442.80" cy="484.06" r="2.7" fill="#fa6814"/>
<circle cx="447.54" cy="484.06" r="2.7" fill="#fa6814"/>
<circle cx="452.28" cy="484.06" r="2.7" fill="#fa6814"/>
<circle cx="457.02" cy="484.06" r="2.7" fill="#fa6814"/>
<circle cx="461.76" cy="484.06" r="2.7" fill="#fa6814"/>
<circle cx="400.14" cy="516.80" r="2.2" fill="none" stroke="#000" stroke-width="1.05"/>
<circle cx="404.88" cy="488.94" r="2.2" fill="none" stroke="#000" stroke-width="1.05"/>
<circle cx="409.62" cy="461.07" r="2.2" fill="none" stroke="#000" stroke-width="1.05"/>
<circle cx="414.36" cy="451.78" r="2.2" fill="none" stroke="#000" stroke-width="1.05"/>
<circle cx="419.10" cy="445.98" r="2.2" fill="none" stroke="#000" stroke-width="1.05"/>
<circle cx="423.84" cy="442.50" r="2.2" fill="none" stroke="#000" stroke-width="1.05"/>
<circle cx="428.58" cy="441.33" r="2.2" fill="none" stroke="#000" stroke-width="1.05"/>
<circle cx="433.32" cy="441.33" r="2.2" fill="none" stroke="#000" stroke-width="1.05"/>
<circle cx="438.06" cy="441.33" r="2.2" fill="none" stroke="#000" stroke-width="1.05"/>
<circle cx="442.80" cy="441.33" r="2.2" fill="none" stroke="#000" stroke-width="1.05"/>
<circle cx="447.54" cy="442.50" r="2.2" fill="none" stroke="#000" stroke-width="1.05"/>
<circle cx="452.28" cy="444.82" r="2.2" fill="none" stroke="#000" stroke-width="1.05"/>
<circle cx="457.02" cy="447.14" r="2.2" fill="none" stroke="#000" stroke-width="1.05"/>
<circle cx="461.76" cy="449.46" r="2.2" fill="none" stroke="#000" stroke-width="1.05"/>
<circle cx="352.74" cy="516.80" r="2.7" fill="#000"/>
<circle cx="357.48" cy="516.80" r="2.7" fill="#000"/>
<circle cx="362.22" cy="516.80" r="2.7" fill="#000"/>
<circle cx="366.96" cy="516.80" r="2.7" fill="#000"/>
<circle cx="371.70" cy="516.80" r="2.7" fill="#000"/>
<circle cx="376.44" cy="516.80" r="2.7" fill="#000"/>
<circle cx="381.18" cy="516.80" r="2.7" fill="#000"/>
<circle cx="385.92" cy="516.80" r="2.7" fill="#000"/>
<circle cx="390.66" cy="516.80" r="2.7" fill="#000"/>
<circle cx="395.40" cy="516.80" r="2.7" fill="#000"/>
<circle cx="400.14" cy="516.80" r="2.7" fill="#000"/>
<circle cx="404.88" cy="516.80" r="2.7" fill="#000"/>
<circle cx="409.62" cy="516.80" r="2.7" fill="#000"/>
<circle cx="414.36" cy="490.79" r="2.7" fill="#000"/>
<circle cx="419.10" cy="468.04" r="2.7" fill="#000"/>
<circle cx="423.84" cy="449.46" r="2.7" fill="#000"/>
<circle cx="428.58" cy="444.35" r="2.7" fill="#000"/>
<circle cx="433.32" cy="444.35" r="2.7" fill="#000"/>
<circle cx="438.06" cy="444.35" r="2.7" fill="#000"/>
<circle cx="442.80" cy="444.35" r="2.7" fill="#000"/>
<circle cx="447.54" cy="444.35" r="2.7" fill="#000"/>
<circle cx="452.28" cy="447.60" r="2.7" fill="#000"/>
<circle cx="457.02" cy="451.78" r="2.7" fill="#000"/>
<circle cx="461.76" cy="451.78" r="2.7" fill="#000"/>
<line x1="349.5" y1="426.2" x2="358" y2="426.2" stroke="#000" stroke-width="0.8"/>
<circle cx="353.60" cy="426.20" r="2.7" fill="#000"/>
<text x="362.80" y="428.20" font-size="6.9" font-weight="bold"  text-anchor="start" fill="#000" >PBS</text>
<line x1="349.5" y1="436" x2="358" y2="436" stroke="#000" stroke-width="0.8"/>
<circle cx="353.60" cy="436.00" r="2.2" fill="none" stroke="#000" stroke-width="1.05"/>
<text x="362.80" y="438.00" font-size="6.9" font-weight="bold"  text-anchor="start" fill="#000" >STING<tspan font-size="4.5" dy="-3">-/-</tspan><tspan dy="3"> PBS</tspan></text>
<line x1="349.5" y1="446.1" x2="358" y2="446.1" stroke="#fa6814" stroke-width="0.8"/>
<circle cx="353.60" cy="446.10" r="2.7" fill="#fa6814"/>
<text x="362.80" y="448.10" font-size="6.9" font-weight="bold"  text-anchor="start" fill="#000" >BBI</text>
<line x1="349.5" y1="455.9" x2="358" y2="455.9" stroke="#fa6814" stroke-width="0.8"/>
<circle cx="353.60" cy="455.90" r="2.2" fill="none" stroke="#fa6814" stroke-width="1.05"/>
<text x="362.80" y="457.90" font-size="6.9" font-weight="bold"  text-anchor="start" fill="#000" >STING<tspan font-size="4.5" dy="-3">-/-</tspan><tspan dy="3"> BBI</tspan></text>
<line x1="465.2" y1="450.5" x2="465.2" y2="485.6" stroke="#000" stroke-width="0.9"/>
<text x="466.40" y="473.60" font-size="10.5"   text-anchor="start" fill="#000" >***</text>
<text x="510.90" y="404.90" font-size="16.6" font-weight="bold"  text-anchor="start" fill="#000" >G</text>
<rect x="539.60" y="435.50" width="14.80" height="14.68" fill="#fff0f0"/>
<rect x="554.40" y="435.50" width="14.80" height="14.68" fill="#ffe0e0"/>
<rect x="569.20" y="435.50" width="14.80" height="14.68" fill="#fff4f4"/>
<rect x="584.00" y="435.50" width="14.80" height="14.68" fill="#ffecec"/>
<rect x="598.80" y="435.50" width="14.80" height="14.68" fill="#fff0f0"/>
<rect x="539.60" y="450.18" width="14.80" height="14.68" fill="#e4e4fc"/>
<rect x="554.40" y="450.18" width="14.80" height="14.68" fill="#f0f0ff"/>
<rect x="569.20" y="450.18" width="14.80" height="14.68" fill="#c8c8f8"/>
<rect x="584.00" y="450.18" width="14.80" height="14.68" fill="#6060f0"/>
<rect x="598.80" y="450.18" width="14.80" height="14.68" fill="#7070f0"/>
<rect x="539.60" y="464.86" width="14.80" height="14.68" fill="#ff2a2a"/>
<rect x="554.40" y="464.86" width="14.80" height="14.68" fill="#f83c3c"/>
<rect x="569.20" y="464.86" width="14.80" height="14.68" fill="#ff2e2e"/>
<rect x="584.00" y="464.86" width="14.80" height="14.68" fill="#ff2a2a"/>
<rect x="598.80" y="464.86" width="14.80" height="14.68" fill="#ff2a2a"/>
<rect x="539.60" y="479.54" width="14.80" height="14.68" fill="#a0a0f4"/>
<rect x="554.40" y="479.54" width="14.80" height="14.68" fill="#b0b0f8"/>
<rect x="569.20" y="479.54" width="14.80" height="14.68" fill="#2a2af8"/>
<rect x="584.00" y="479.54" width="14.80" height="14.68" fill="#2020ff"/>
<rect x="598.80" y="479.54" width="14.80" height="14.68" fill="#8080f4"/>
<line x1="539.10" y1="435.50" x2="614.10" y2="435.50" stroke="#000" stroke-width="1.1"/>
<line x1="539.10" y1="450.18" x2="614.10" y2="450.18" stroke="#000" stroke-width="1.1"/>
<line x1="539.10" y1="464.86" x2="614.10" y2="464.86" stroke="#000" stroke-width="1.1"/>
<line x1="539.10" y1="479.54" x2="614.10" y2="479.54" stroke="#000" stroke-width="1.1"/>
<line x1="539.10" y1="494.22" x2="614.10" y2="494.22" stroke="#000" stroke-width="1.1"/>
<line x1="539.60" y1="435.50" x2="539.60" y2="494.22" stroke="#000" stroke-width="1.1"/>
<line x1="554.40" y1="435.50" x2="554.40" y2="494.22" stroke="#000" stroke-width="1.1"/>
<line x1="569.20" y1="435.50" x2="569.20" y2="494.22" stroke="#000" stroke-width="1.1"/>
<line x1="584.00" y1="435.50" x2="584.00" y2="494.22" stroke="#000" stroke-width="1.1"/>
<line x1="598.80" y1="435.50" x2="598.80" y2="494.22" stroke="#000" stroke-width="1.1"/>
<line x1="613.60" y1="435.50" x2="613.60" y2="494.22" stroke="#000" stroke-width="1.1"/>
<rect x="539.60" y="435.50" width="74.00" height="58.72" fill="none" stroke="#000" stroke-width="1.5"/>
<line x1="536.40" y1="442.84" x2="539.60" y2="442.84" stroke="#000" stroke-width="1.1"/>
<text x="535.60" y="445.34" font-size="6.9" font-weight="bold"  text-anchor="end" fill="#000" >WT PBS</text>
<line x1="536.40" y1="457.52" x2="539.60" y2="457.52" stroke="#000" stroke-width="1.1"/>
<text x="535.60" y="460.02" font-size="6.9" font-weight="bold"  text-anchor="end" fill="#000" >STING<tspan font-size="4.5" dy="-3">-/-</tspan><tspan dy="3"> PBS</tspan></text>
<line x1="536.40" y1="472.20" x2="539.60" y2="472.20" stroke="#000" stroke-width="1.1"/>
<text x="535.60" y="474.70" font-size="6.9" font-weight="bold"  text-anchor="end" fill="#000" >WT BBI</text>
<line x1="536.40" y1="486.88" x2="539.60" y2="486.88" stroke="#000" stroke-width="1.1"/>
<text x="535.60" y="489.38" font-size="6.9" font-weight="bold"  text-anchor="end" fill="#000" >STING<tspan font-size="4.5" dy="-3">-/-</tspan><tspan dy="3"> BBI</tspan></text>
<line x1="547.00" y1="433.00" x2="547.00" y2="435.50" stroke="#000" stroke-width="0.8"/>
<text x="549.00" y="431.50" font-size="8.4" font-style="italic"  text-anchor="start" fill="#000" transform="rotate(-45 549.00 431.50)">Tbk1</text>
<line x1="561.80" y1="433.00" x2="561.80" y2="435.50" stroke="#000" stroke-width="0.8"/>
<text x="563.80" y="431.50" font-size="8.4" font-style="italic"  text-anchor="start" fill="#000" transform="rotate(-45 563.80 431.50)">Irf3</text>
<line x1="576.60" y1="433.00" x2="576.60" y2="435.50" stroke="#000" stroke-width="0.8"/>
<text x="578.60" y="431.50" font-size="8.4" font-style="italic"  text-anchor="start" fill="#000" transform="rotate(-45 578.60 431.50)">Ifnar1</text>
<line x1="591.40" y1="433.00" x2="591.40" y2="435.50" stroke="#000" stroke-width="0.8"/>
<text x="593.40" y="431.50" font-size="8.4" font-style="italic"  text-anchor="start" fill="#000" transform="rotate(-45 593.40 431.50)">Ifnb1</text>
<line x1="606.20" y1="433.00" x2="606.20" y2="435.50" stroke="#000" stroke-width="0.8"/>
<text x="608.20" y="431.50" font-size="8.4" font-style="italic"  text-anchor="start" fill="#000" transform="rotate(-45 608.20 431.50)">Il10</text>
<rect x="563.40" y="498.2" width="0.81" height="8.5" fill="#0606ff"/>
<rect x="564.05" y="498.2" width="0.81" height="8.5" fill="#1313ff"/>
<rect x="564.71" y="498.2" width="0.81" height="8.5" fill="#1f1fff"/>
<rect x="565.37" y="498.2" width="0.81" height="8.5" fill="#2c2cff"/>
<rect x="566.02" y="498.2" width="0.81" height="8.5" fill="#3939ff"/>
<rect x="566.67" y="498.2" width="0.81" height="8.5" fill="#4646ff"/>
<rect x="567.33" y="498.2" width="0.81" height="8.5" fill="#5252ff"/>
<rect x="567.99" y="498.2" width="0.81" height="8.5" fill="#5f5fff"/>
<rect x="568.64" y="498.2" width="0.81" height="8.5" fill="#6c6cff"/>
<rect x="569.29" y="498.2" width="0.81" height="8.5" fill="#7979ff"/>
<rect x="569.95" y="498.2" width="0.81" height="8.5" fill="#8585ff"/>
<rect x="570.61" y="498.2" width="0.81" height="8.5" fill="#9292ff"/>
<rect x="571.26" y="498.2" width="0.81" height="8.5" fill="#9f9fff"/>
<rect x="571.91" y="498.2" width="0.81" height="8.5" fill="#acacff"/>
<rect x="572.57" y="498.2" width="0.81" height="8.5" fill="#b8b8ff"/>
<rect x="573.23" y="498.2" width="0.81" height="8.5" fill="#c5c5ff"/>
<rect x="573.88" y="498.2" width="0.81" height="8.5" fill="#d2d2ff"/>
<rect x="574.53" y="498.2" width="0.81" height="8.5" fill="#dfdfff"/>
<rect x="575.19" y="498.2" width="0.81" height="8.5" fill="#ebebff"/>
<rect x="575.85" y="498.2" width="0.81" height="8.5" fill="#f8f8ff"/>
<rect x="576.50" y="498.2" width="0.81" height="8.5" fill="#fff8f8"/>
<rect x="577.15" y="498.2" width="0.81" height="8.5" fill="#ffebeb"/>
<rect x="577.81" y="498.2" width="0.81" height="8.5" fill="#ffdfdf"/>
<rect x="578.47" y="498.2" width="0.81" height="8.5" fill="#ffd2d2"/>
<rect x="579.12" y="498.2" width="0.81" height="8.5" fill="#ffc5c5"/>
<rect x="579.77" y="498.2" width="0.81" height="8.5" fill="#ffb8b8"/>
<rect x="580.43" y="498.2" width="0.81" height="8.5" fill="#ffacac"/>
<rect x="581.08" y="498.2" width="0.81" height="8.5" fill="#ff9f9f"/>
<rect x="581.74" y="498.2" width="0.81" height="8.5" fill="#ff9292"/>
<rect x="582.39" y="498.2" width="0.81" height="8.5" fill="#ff8585"/>
<rect x="583.05" y="498.2" width="0.81" height="8.5" fill="#ff7979"/>
<rect x="583.70" y="498.2" width="0.81" height="8.5" fill="#ff6c6c"/>
<rect x="584.36" y="498.2" width="0.81" height="8.5" fill="#ff5f5f"/>
<rect x="585.01" y="498.2" width="0.81" height="8.5" fill="#ff5252"/>
<rect x="585.67" y="498.2" width="0.81" height="8.5" fill="#ff4646"/>
<rect x="586.32" y="498.2" width="0.81" height="8.5" fill="#ff3939"/>
<rect x="586.98" y="498.2" width="0.81" height="8.5" fill="#ff2c2c"/>
<rect x="587.63" y="498.2" width="0.81" height="8.5" fill="#ff1f1f"/>
<rect x="588.29" y="498.2" width="0.81" height="8.5" fill="#ff1313"/>
<rect x="588.94" y="498.2" width="0.81" height="8.5" fill="#ff0606"/>
<rect x="563.4" y="498.2" width="26.2" height="8.5" fill="none" stroke="#000" stroke-width="0.9"/>
<path d="M567.77,498.2 L567.77,500.0 M567.77,506.7 L567.77,504.9" stroke="#000" stroke-width="0.7"/>
<path d="M572.13,498.2 L572.13,500.0 M572.13,506.7 L572.13,504.9" stroke="#000" stroke-width="0.7"/>
<path d="M576.50,498.2 L576.50,500.0 M576.50,506.7 L576.50,504.9" stroke="#000" stroke-width="0.7"/>
<path d="M580.87,498.2 L580.87,500.0 M580.87,506.7 L580.87,504.9" stroke="#000" stroke-width="0.7"/>
<path d="M585.23,498.2 L585.23,500.0 M585.23,506.7 L585.23,504.9" stroke="#000" stroke-width="0.7"/>
<text x="575.50" y="515.00" font-size="7.3" font-weight="bold"  text-anchor="middle" fill="#000" >-4-2 0 2 4</text>
<text x="576.50" y="523.00" font-size="6.6" font-weight="bold"  text-anchor="middle" fill="#000" >mRNA (RQ)</text>
<text x="-0.10" y="582.90" font-size="16.6" font-weight="bold"  text-anchor="start" fill="#000" >H</text>
<rect x="50.7" y="581" width="7.3" height="7.2" fill="#000"/>
<text x="59.30" y="588.40" font-size="9.5" font-weight="bold"  text-anchor="start" fill="#000" >M&#934;</text>
<rect x="95.2" y="581.3" width="6.8" height="6.8" fill="#b0b0b0" stroke="#555" stroke-width="0.6"/>
<text x="103.00" y="588.40" font-size="9.5" font-weight="bold"  text-anchor="start" fill="#000" >M&#934;+STING inhib.</text>
<line x1="26.5" y1="602.00" x2="26.5" y2="669.5" stroke="#000" stroke-width="0.8"/>
<line x1="26.5" y1="669.5" x2="124" y2="669.5" stroke="#000" stroke-width="0.8"/>
<line x1="24.3" y1="669.50" x2="26.5" y2="669.50" stroke="#000" stroke-width="0.7"/>
<text x="23.70" y="671.60" font-size="6.2" font-weight="bold"  text-anchor="end" fill="#000" >0</text>
<line x1="24.3" y1="647.17" x2="26.5" y2="647.17" stroke="#000" stroke-width="0.7"/>
<text x="23.70" y="649.27" font-size="6.2" font-weight="bold"  text-anchor="end" fill="#000" >10</text>
<line x1="24.3" y1="624.83" x2="26.5" y2="624.83" stroke="#000" stroke-width="0.7"/>
<text x="23.70" y="626.93" font-size="6.2" font-weight="bold"  text-anchor="end" fill="#000" >20</text>
<line x1="24.3" y1="602.50" x2="26.5" y2="602.50" stroke="#000" stroke-width="0.7"/>
<text x="23.70" y="604.60" font-size="6.2" font-weight="bold"  text-anchor="end" fill="#000" >30</text>
<rect x="35.6" y="667.71" width="15.50" height="1.79" fill="#000" stroke="#000" stroke-width="0.6"/>
<rect x="54.7" y="667.71" width="16.50" height="1.79" fill="#b4b4b4" stroke="#000" stroke-width="0.6"/>
<rect x="80" y="619.03" width="15.80" height="50.47" fill="#000" stroke="#000" stroke-width="0.6"/>
<path d="M87.90,619.03 L87.90,611.66 M83.70,611.66 L92.10,611.66" stroke="#111" stroke-width="0.9" fill="none"/>
<rect x="96.7" y="668.61" width="14.60" height="0.89" fill="#b4b4b4" stroke="#000" stroke-width="0.6"/>
<text x="12.90" y="637.60" font-size="9.6" font-weight="bold"  text-anchor="middle" fill="#000" transform="rotate(-90 12.9 637.6)" >Ifnb1 mRNA (RQ)</text>
<line x1="84.9" y1="605.6" x2="105.8" y2="605.6" stroke="#000" stroke-width="1.1"/>
<text x="95.35" y="608.10" font-size="12.4" font-weight="bold"  text-anchor="middle" fill="#000" >***</text>
<text x="54.70" y="678.60" font-size="7.6" font-weight="bold"  text-anchor="middle" fill="#000" >PBS</text>
<text x="99.50" y="678.60" font-size="7.6" font-weight="bold"  text-anchor="middle" fill="#000" >BBI</text>
<line x1="151.5" y1="601.40" x2="151.5" y2="668.5" stroke="#000" stroke-width="0.8"/>
<line x1="151.5" y1="668.5" x2="250" y2="668.5" stroke="#000" stroke-width="0.8"/>
<line x1="149.3" y1="668.50" x2="151.5" y2="668.50" stroke="#000" stroke-width="0.7"/>
<text x="148.70" y="670.60" font-size="6.2" font-weight="bold"  text-anchor="end" fill="#000" >0</text>
<line x1="149.3" y1="651.85" x2="151.5" y2="651.85" stroke="#000" stroke-width="0.7"/>
<text x="148.70" y="653.95" font-size="6.2" font-weight="bold"  text-anchor="end" fill="#000" >10</text>
<line x1="149.3" y1="635.20" x2="151.5" y2="635.20" stroke="#000" stroke-width="0.7"/>
<text x="148.70" y="637.30" font-size="6.2" font-weight="bold"  text-anchor="end" fill="#000" >20</text>
<line x1="149.3" y1="618.55" x2="151.5" y2="618.55" stroke="#000" stroke-width="0.7"/>
<text x="148.70" y="620.65" font-size="6.2" font-weight="bold"  text-anchor="end" fill="#000" >30</text>
<line x1="149.3" y1="601.90" x2="151.5" y2="601.90" stroke="#000" stroke-width="0.7"/>
<text x="148.70" y="604.00" font-size="6.2" font-weight="bold"  text-anchor="end" fill="#000" >40</text>
<rect x="160" y="667.17" width="16.60" height="1.33" fill="#000" stroke="#000" stroke-width="0.6"/>
<rect x="179.7" y="667.17" width="16.50" height="1.33" fill="#b4b4b4" stroke="#000" stroke-width="0.6"/>
<rect x="204" y="619.05" width="16.80" height="49.45" fill="#000" stroke="#000" stroke-width="0.6"/>
<path d="M212.40,619.05 L212.40,612.39 M208.20,612.39 L216.60,612.39" stroke="#111" stroke-width="0.9" fill="none"/>
<rect x="223.5" y="667.50" width="17.40" height="1.00" fill="#b4b4b4" stroke="#000" stroke-width="0.6"/>
<text x="136.30" y="635.30" font-size="9.6" font-weight="bold"  text-anchor="middle" fill="#000" transform="rotate(-90 136.3 635.3)" >Il-10 mRNA (RQ)</text>
<line x1="210.0" y1="605.5" x2="230.8" y2="605.5" stroke="#000" stroke-width="1.1"/>
<text x="220.40" y="608.00" font-size="12.4" font-weight="bold"  text-anchor="middle" fill="#000" >***</text>
<text x="179.40" y="678.30" font-size="7.6" font-weight="bold"  text-anchor="middle" fill="#000" >PBS</text>
<text x="222.30" y="678.30" font-size="7.6" font-weight="bold"  text-anchor="middle" fill="#000" >BBI</text>
<text x="297.90" y="582.80" font-size="16.6" font-weight="bold"  text-anchor="start" fill="#000" >I</text>
<rect x="324.00" y="629.30" width="12.75" height="12.70" fill="#ffffff"/>
<rect x="336.75" y="629.30" width="12.75" height="12.70" fill="#ffffff"/>
<rect x="349.50" y="629.30" width="12.75" height="12.70" fill="#ffffff"/>
<rect x="362.25" y="629.30" width="12.75" height="12.70" fill="#ffffff"/>
<rect x="375.00" y="629.30" width="12.75" height="12.70" fill="#ffffff"/>
<rect x="387.75" y="629.30" width="12.75" height="12.70" fill="#ffffff"/>
<rect x="400.50" y="629.30" width="12.75" height="12.70" fill="#ffffff"/>
<rect x="413.25" y="629.30" width="12.75" height="12.70" fill="#ffffff"/>
<rect x="426.00" y="629.30" width="12.75" height="12.70" fill="#ffffff"/>
<rect x="438.75" y="629.30" width="12.75" height="12.70" fill="#ffffff"/>
<rect x="451.50" y="629.30" width="12.75" height="12.70" fill="#ffffff"/>
<rect x="464.25" y="629.30" width="12.75" height="12.70" fill="#ffffff"/>
<rect x="477.00" y="629.30" width="12.75" height="12.70" fill="#ffffff"/>
<rect x="489.75" y="629.30" width="12.75" height="12.70" fill="#ffffff"/>
<rect x="324.00" y="642.00" width="12.75" height="12.70" fill="#ffffff"/>
<rect x="336.75" y="642.00" width="12.75" height="12.70" fill="#ffe0e0"/>
<rect x="349.50" y="642.00" width="12.75" height="12.70" fill="#fff8f8"/>
<rect x="362.25" y="642.00" width="12.75" height="12.70" fill="#eeeeff"/>
<rect x="375.00" y="642.00" width="12.75" height="12.70" fill="#fff8f8"/>
<rect x="387.75" y="642.00" width="12.75" height="12.70" fill="#fff0f0"/>
<rect x="400.50" y="642.00" width="12.75" height="12.70" fill="#fffafa"/>
<rect x="413.25" y="642.00" width="12.75" height="12.70" fill="#ffe4e4"/>
<rect x="426.00" y="642.00" width="12.75" height="12.70" fill="#ffe0e0"/>
<rect x="438.75" y="642.00" width="12.75" height="12.70" fill="#ffffff"/>
<rect x="451.50" y="642.00" width="12.75" height="12.70" fill="#ff9898"/>
<rect x="464.25" y="642.00" width="12.75" height="12.70" fill="#ffeaea"/>
<rect x="477.00" y="642.00" width="12.75" height="12.70" fill="#ffe0e0"/>
<rect x="489.75" y="642.00" width="12.75" height="12.70" fill="#d0d0f8"/>
<rect x="324.00" y="654.70" width="12.75" height="12.70" fill="#0000ee"/>
<rect x="336.75" y="654.70" width="12.75" height="12.70" fill="#2020f0"/>
<rect x="349.50" y="654.70" width="12.75" height="12.70" fill="#ffffff"/>
<rect x="362.25" y="654.70" width="12.75" height="12.70" fill="#ffffff"/>
<rect x="375.00" y="654.70" width="12.75" height="12.70" fill="#ffffff"/>
<rect x="387.75" y="654.70" width="12.75" height="12.70" fill="#ffffff"/>
<rect x="400.50" y="654.70" width="12.75" height="12.70" fill="#ffffff"/>
<rect x="413.25" y="654.70" width="12.75" height="12.70" fill="#ffffff"/>
<rect x="426.00" y="654.70" width="12.75" height="12.70" fill="#ffffff"/>
<rect x="438.75" y="654.70" width="12.75" height="12.70" fill="#ffffff"/>
<rect x="451.50" y="654.70" width="12.75" height="12.70" fill="#ff6060"/>
<rect x="464.25" y="654.70" width="12.75" height="12.70" fill="#ffd0d0"/>
<rect x="477.00" y="654.70" width="12.75" height="12.70" fill="#ffffff"/>
<rect x="489.75" y="654.70" width="12.75" height="12.70" fill="#ff0000"/>
<rect x="324.00" y="667.40" width="12.75" height="12.70" fill="#ffffff"/>
<rect x="336.75" y="667.40" width="12.75" height="12.70" fill="#ffffff"/>
<rect x="349.50" y="667.40" width="12.75" height="12.70" fill="#fff4f4"/>
<rect x="362.25" y="667.40" width="12.75" height="12.70" fill="#f8f8ff"/>
<rect x="375.00" y="667.40" width="12.75" height="12.70" fill="#fff8f8"/>
<rect x="387.75" y="667.40" width="12.75" height="12.70" fill="#ffffff"/>
<rect x="400.50" y="667.40" width="12.75" height="12.70" fill="#ffffff"/>
<rect x="413.25" y="667.40" width="12.75" height="12.70" fill="#ffd8d8"/>
<rect x="426.00" y="667.40" width="12.75" height="12.70" fill="#ffdcdc"/>
<rect x="438.75" y="667.40" width="12.75" height="12.70" fill="#ffffff"/>
<rect x="451.50" y="667.40" width="12.75" height="12.70" fill="#ff7070"/>
<rect x="464.25" y="667.40" width="12.75" height="12.70" fill="#ff8080"/>
<rect x="477.00" y="667.40" width="12.75" height="12.70" fill="#ffa8a8"/>
<rect x="489.75" y="667.40" width="12.75" height="12.70" fill="#8080f0"/>
<line x1="323.50" y1="629.30" x2="503.00" y2="629.30" stroke="#000" stroke-width="1.1"/>
<line x1="323.50" y1="642.00" x2="503.00" y2="642.00" stroke="#000" stroke-width="1.1"/>
<line x1="323.50" y1="654.70" x2="503.00" y2="654.70" stroke="#000" stroke-width="1.1"/>
<line x1="323.50" y1="667.40" x2="503.00" y2="667.40" stroke="#000" stroke-width="1.1"/>
<line x1="323.50" y1="680.10" x2="503.00" y2="680.10" stroke="#000" stroke-width="1.1"/>
<line x1="324.00" y1="629.30" x2="324.00" y2="680.10" stroke="#000" stroke-width="1.1"/>
<line x1="336.75" y1="629.30" x2="336.75" y2="680.10" stroke="#000" stroke-width="1.1"/>
<line x1="349.50" y1="629.30" x2="349.50" y2="680.10" stroke="#000" stroke-width="1.1"/>
<line x1="362.25" y1="629.30" x2="362.25" y2="680.10" stroke="#000" stroke-width="1.1"/>
<line x1="375.00" y1="629.30" x2="375.00" y2="680.10" stroke="#000" stroke-width="1.1"/>
<line x1="387.75" y1="629.30" x2="387.75" y2="680.10" stroke="#000" stroke-width="1.1"/>
<line x1="400.50" y1="629.30" x2="400.50" y2="680.10" stroke="#000" stroke-width="1.1"/>
<line x1="413.25" y1="629.30" x2="413.25" y2="680.10" stroke="#000" stroke-width="1.1"/>
<line x1="426.00" y1="629.30" x2="426.00" y2="680.10" stroke="#000" stroke-width="1.1"/>
<line x1="438.75" y1="629.30" x2="438.75" y2="680.10" stroke="#000" stroke-width="1.1"/>
<line x1="451.50" y1="629.30" x2="451.50" y2="680.10" stroke="#000" stroke-width="1.1"/>
<line x1="464.25" y1="629.30" x2="464.25" y2="680.10" stroke="#000" stroke-width="1.1"/>
<line x1="477.00" y1="629.30" x2="477.00" y2="680.10" stroke="#000" stroke-width="1.1"/>
<line x1="489.75" y1="629.30" x2="489.75" y2="680.10" stroke="#000" stroke-width="1.1"/>
<line x1="502.50" y1="629.30" x2="502.50" y2="680.10" stroke="#000" stroke-width="1.1"/>
<rect x="324.00" y="629.30" width="178.50" height="50.80" fill="none" stroke="#000" stroke-width="1.5"/>
<line x1="320.80" y1="635.65" x2="324.00" y2="635.65" stroke="#000" stroke-width="1.1"/>
<text x="320.00" y="638.25" font-size="7.2" font-weight="bold"  text-anchor="end" fill="#000" >PBS</text>
<line x1="320.80" y1="648.35" x2="324.00" y2="648.35" stroke="#000" stroke-width="1.1"/>
<text x="320.00" y="650.15" font-size="7.0" font-weight="bold"  text-anchor="end" fill="#000" >STING+PBS</text>
<text x="283.40" y="656.65" font-size="6.5" font-weight="bold"  text-anchor="start" fill="#222" >Inhib.</text>
<line x1="320.80" y1="661.05" x2="324.00" y2="661.05" stroke="#000" stroke-width="1.1"/>
<text x="320.00" y="663.65" font-size="7.2" font-weight="bold"  text-anchor="end" fill="#000" >BBI</text>
<line x1="320.80" y1="673.75" x2="324.00" y2="673.75" stroke="#000" stroke-width="1.1"/>
<text x="320.00" y="675.55" font-size="7.0" font-weight="bold"  text-anchor="end" fill="#000" >STING+BBI</text>
<text x="285.30" y="682.05" font-size="6.5" font-weight="bold"  text-anchor="start" fill="#222" >Inhib.</text>
<line x1="330.38" y1="626.80" x2="330.38" y2="629.30" stroke="#000" stroke-width="0.8"/>
<text x="331.18" y="626.10" font-size="7.4" font-style="normal" font-weight="bold" text-anchor="start" fill="#000" transform="rotate(-45 331.18 626.10)">IL-23</text>
<line x1="343.12" y1="626.80" x2="343.12" y2="629.30" stroke="#000" stroke-width="0.8"/>
<text x="343.93" y="626.10" font-size="7.4" font-style="normal" font-weight="bold" text-anchor="start" fill="#000" transform="rotate(-45 343.93 626.10)">IL-12 p70</text>
<line x1="355.88" y1="626.80" x2="355.88" y2="629.30" stroke="#000" stroke-width="0.8"/>
<text x="356.68" y="626.10" font-size="7.4" font-style="normal" font-weight="bold" text-anchor="start" fill="#000" transform="rotate(-45 356.68 626.10)">IL-1&#945;</text>
<line x1="368.62" y1="626.80" x2="368.62" y2="629.30" stroke="#000" stroke-width="0.8"/>
<text x="369.43" y="626.10" font-size="7.4" font-style="normal" font-weight="bold" text-anchor="start" fill="#000" transform="rotate(-45 369.43 626.10)">IL-1b</text>
<line x1="381.38" y1="626.80" x2="381.38" y2="629.30" stroke="#000" stroke-width="0.8"/>
<text x="382.18" y="626.10" font-size="7.4" font-style="normal" font-weight="bold" text-anchor="start" fill="#000" transform="rotate(-45 382.18 626.10)">IL-1ra</text>
<line x1="394.12" y1="626.80" x2="394.12" y2="629.30" stroke="#000" stroke-width="0.8"/>
<text x="394.93" y="626.10" font-size="7.4" font-style="normal" font-weight="bold" text-anchor="start" fill="#000" transform="rotate(-45 394.93 626.10)">IL-3</text>
<line x1="406.88" y1="626.80" x2="406.88" y2="629.30" stroke="#000" stroke-width="0.8"/>
<text x="407.68" y="626.10" font-size="7.4" font-style="normal" font-weight="bold" text-anchor="start" fill="#000" transform="rotate(-45 407.68 626.10)">IL-5</text>
<line x1="419.62" y1="626.80" x2="419.62" y2="629.30" stroke="#000" stroke-width="0.8"/>
<text x="420.43" y="626.10" font-size="7.4" font-style="normal" font-weight="bold" text-anchor="start" fill="#000" transform="rotate(-45 420.43 626.10)">IL-6</text>
<line x1="432.38" y1="626.80" x2="432.38" y2="629.30" stroke="#000" stroke-width="0.8"/>
<text x="433.18" y="626.10" font-size="7.4" font-style="normal" font-weight="bold" text-anchor="start" fill="#000" transform="rotate(-45 433.18 626.10)">TNF</text>
<line x1="445.12" y1="626.80" x2="445.12" y2="629.30" stroke="#000" stroke-width="0.8"/>
<text x="445.93" y="626.10" font-size="7.4" font-style="normal" font-weight="bold" text-anchor="start" fill="#000" transform="rotate(-45 445.93 626.10)">GM-CSF</text>
<line x1="457.88" y1="626.80" x2="457.88" y2="629.30" stroke="#000" stroke-width="0.8"/>
<text x="458.68" y="626.10" font-size="7.4" font-style="normal" font-weight="bold" text-anchor="start" fill="#000" transform="rotate(-45 458.68 626.10)">M-CSF</text>
<line x1="470.62" y1="626.80" x2="470.62" y2="629.30" stroke="#000" stroke-width="0.8"/>
<text x="471.43" y="626.10" font-size="7.4" font-style="normal" font-weight="bold" text-anchor="start" fill="#000" transform="rotate(-45 471.43 626.10)">CCL2</text>
<line x1="483.38" y1="626.80" x2="483.38" y2="629.30" stroke="#000" stroke-width="0.8"/>
<text x="484.18" y="626.10" font-size="7.4" font-style="normal" font-weight="bold" text-anchor="start" fill="#000" transform="rotate(-45 484.18 626.10)">CCL5</text>
<line x1="496.12" y1="626.80" x2="496.12" y2="629.30" stroke="#000" stroke-width="0.8"/>
<text x="496.93" y="626.10" font-size="7.4" font-style="normal" font-weight="bold" text-anchor="start" fill="#000" transform="rotate(-45 496.93 626.10)">IL-10</text>
<text x="525.90" y="582.70" font-size="16.6" font-weight="bold"  text-anchor="start" fill="#000" >J</text>
<rect x="553.5" y="583" width="7.3" height="6.7" fill="#000"/>
<text x="562.10" y="589.60" font-size="9.5" font-weight="bold"  text-anchor="start" fill="#000" >M&#934;</text>
<rect x="598" y="583.2" width="6.6" height="6.4" fill="#b0b0b0" stroke="#555" stroke-width="0.6"/>
<text x="606.10" y="589.60" font-size="9.5" font-weight="bold"  text-anchor="start" fill="#000" >M&#934;+STING inhib.</text>
<line x1="555.4" y1="604.90" x2="555.4" y2="669.4" stroke="#000" stroke-width="0.8"/>
<line x1="555.4" y1="669.4" x2="648.5" y2="669.4" stroke="#000" stroke-width="0.8"/>
<line x1="553.1999999999999" y1="669.40" x2="555.4" y2="669.40" stroke="#000" stroke-width="0.7"/>
<text x="552.60" y="671.50" font-size="5.8" font-weight="bold"  text-anchor="end" fill="#000" >0</text>
<line x1="553.1999999999999" y1="656.60" x2="555.4" y2="656.60" stroke="#000" stroke-width="0.7"/>
<text x="552.60" y="658.70" font-size="5.8" font-weight="bold"  text-anchor="end" fill="#000" >200</text>
<line x1="553.1999999999999" y1="643.80" x2="555.4" y2="643.80" stroke="#000" stroke-width="0.7"/>
<text x="552.60" y="645.90" font-size="5.8" font-weight="bold"  text-anchor="end" fill="#000" >400</text>
<line x1="553.1999999999999" y1="631.00" x2="555.4" y2="631.00" stroke="#000" stroke-width="0.7"/>
<text x="552.60" y="633.10" font-size="5.8" font-weight="bold"  text-anchor="end" fill="#000" >600</text>
<line x1="553.1999999999999" y1="618.20" x2="555.4" y2="618.20" stroke="#000" stroke-width="0.7"/>
<text x="552.60" y="620.30" font-size="5.8" font-weight="bold"  text-anchor="end" fill="#000" >800</text>
<line x1="553.1999999999999" y1="605.40" x2="555.4" y2="605.40" stroke="#000" stroke-width="0.7"/>
<text x="552.60" y="607.50" font-size="5.8" font-weight="bold"  text-anchor="end" fill="#000" >1000</text>
<rect x="563.5" y="667.48" width="16.20" height="1.92" fill="#000" stroke="#000" stroke-width="0.6"/>
<rect x="583.2" y="667.80" width="14.60" height="1.60" fill="#b4b4b4" stroke="#000" stroke-width="0.6"/>
<rect x="606.1" y="614.36" width="15.40" height="55.04" fill="#000" stroke="#000" stroke-width="0.6"/>
<path d="M613.80,614.36 L613.80,612.12 M609.60,612.12 L618.00,612.12" stroke="#111" stroke-width="0.9" fill="none"/>
<rect x="624.8" y="661.85" width="15.10" height="7.55" fill="#b4b4b4" stroke="#000" stroke-width="0.6"/>
<path d="M632.35,661.85 L632.35,661.21 M628.15,661.21 L636.55,661.21" stroke="#111" stroke-width="0.9" fill="none"/>
<text x="537.40" y="637.90" font-size="7.4" font-weight="bold"  text-anchor="middle" fill="#000" transform="rotate(-90 537.4 637.9)" >IFN-&#946; (pg/mL)</text>
<line x1="611.3" y1="608.5" x2="632.3" y2="608.5" stroke="#000" stroke-width="1.1"/>
<text x="621.80" y="609.40" font-size="12.4" font-weight="bold"  text-anchor="middle" fill="#000" >***</text>
<text x="577.00" y="678.30" font-size="7.6" font-weight="bold"  text-anchor="middle" fill="#000" >PBS</text>
<text x="621.50" y="678.30" font-size="7.6" font-weight="bold"  text-anchor="middle" fill="#000" >BBI</text>
</svg></body></html>
